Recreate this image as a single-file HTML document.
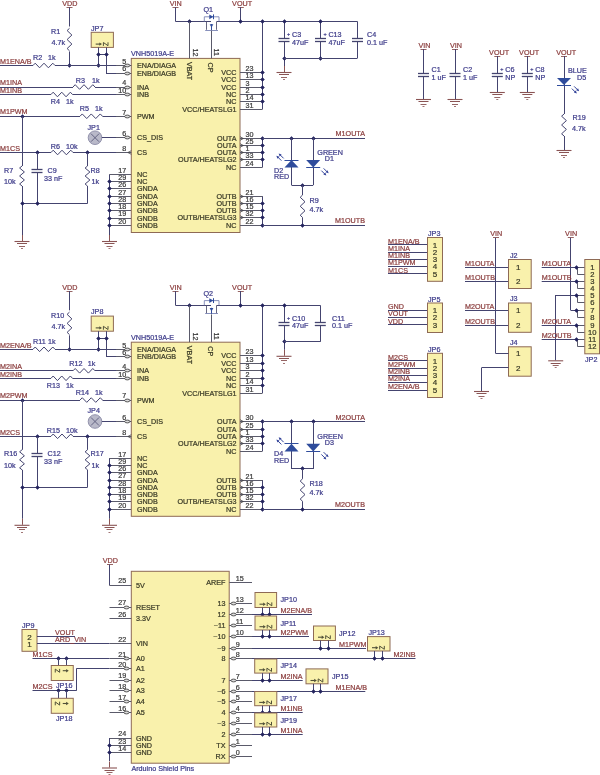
<!DOCTYPE html>
<html><head><meta charset="utf-8"><style>
html,body{margin:0;padding:0;background:#fff;}
body{width:600px;height:775px;overflow:hidden;}
svg{display:block;font-family:"Liberation Sans",sans-serif;will-change:transform;}
text{stroke-width:0.22px;}
</style></head><body>
<svg width="600" height="775" viewBox="0 0 600 775">
<rect width="600" height="775" fill="#ffffff"/>
<text x="69.8" y="5.8" fill="#8c3f3f" stroke="#8c3f3f" font-size="7.2" text-anchor="middle">VDD</text>
<line x1="66.5" y1="7.5" x2="72.5" y2="7.5" stroke="#8a5454" stroke-width="0.9"/>
<line x1="69.5" y1="7.3" x2="69.5" y2="65.5" stroke="#44446f" stroke-width="1"/>
<rect x="65" y="26.5" width="9" height="25" fill="#ffffff"/>
<polyline points="69.5,28.3 67.1,30.55 71.9,35.05 67.1,39.55 71.9,44.05 67.1,48.55 69.5,50.8" fill="none" stroke="#44446f" stroke-width="1"/>
<text x="51" y="33.8" fill="#3e3c8a" stroke="#3e3c8a" font-size="7.2">R1</text>
<text x="65" y="45" fill="#3e3c8a" stroke="#3e3c8a" font-size="7.2" text-anchor="end">4.7k</text>
<text x="91" y="30.5" fill="#3e3c8a" stroke="#3e3c8a" font-size="7.2">JP7</text>
<rect x="91.2" y="32.3" width="22.2" height="15.1" fill="#f9f1ac" stroke="#8e6a55" stroke-width="1"/>
<path d="M95.7 44.1H100" stroke="#505038" stroke-width="1.1" fill="none"/>
<path d="M99.4 42.4L102 44.1L99.4 45.8Z" fill="#505038"/>
<path d="M103.4 45.9V42.5L108 45.7V42.3" stroke="#505038" stroke-width="1.0" fill="none" stroke-linejoin="round"/>
<line x1="98.5" y1="47.4" x2="98.5" y2="65.5" stroke="#44446f" stroke-width="1"/>
<line x1="106.5" y1="47.4" x2="106.5" y2="73" stroke="#44446f" stroke-width="1"/>
<line x1="98.7" y1="54.5" x2="106" y2="54.5" stroke="#44446f" stroke-width="1"/>
<line x1="106" y1="73.5" x2="116" y2="73.5" stroke="#44446f" stroke-width="1"/>
<path d="M96.6 54.5L98.5 52.6L100.4 54.5L98.5 56.4Z" fill="#24245e" stroke="#24245e" stroke-width="0.6" stroke-linejoin="round"/>
<path d="M104.6 54.5L106.5 52.6L108.4 54.5L106.5 56.4Z" fill="#24245e" stroke="#24245e" stroke-width="0.6" stroke-linejoin="round"/>
<path d="M96.6 65.5L98.5 63.6L100.4 65.5L98.5 67.4Z" fill="#24245e" stroke="#24245e" stroke-width="0.6" stroke-linejoin="round"/>
<path d="M67.6 65.5L69.5 63.6L71.4 65.5L69.5 67.4Z" fill="#24245e" stroke="#24245e" stroke-width="0.6" stroke-linejoin="round"/>
<line x1="0" y1="65.5" x2="33" y2="65.5" stroke="#44446f" stroke-width="1"/>
<polyline points="33,65.5 35.2,63.2 39.6,67.8 44,63.2 48.4,67.8 52.8,63.2 55,65.5" fill="none" stroke="#44446f" stroke-width="1"/>
<line x1="55" y1="65.5" x2="116" y2="65.5" stroke="#44446f" stroke-width="1"/>
<text x="0" y="63.8" fill="#8c3f3f" stroke="#8c3f3f" font-size="7.2">M1ENA/B</text>
<text x="33" y="60" fill="#3e3c8a" stroke="#3e3c8a" font-size="7.2">R2</text>
<text x="48" y="60" fill="#3e3c8a" stroke="#3e3c8a" font-size="7.2">1k</text>
<line x1="0" y1="87.5" x2="73" y2="87.5" stroke="#44446f" stroke-width="1"/>
<polyline points="73,87 75.2,84.7 79.6,89.3 84,84.7 88.4,89.3 92.8,84.7 95,87" fill="none" stroke="#44446f" stroke-width="1"/>
<line x1="95" y1="87.5" x2="116" y2="87.5" stroke="#44446f" stroke-width="1"/>
<text x="0" y="85.3" fill="#8c3f3f" stroke="#8c3f3f" font-size="7.2">M1INA</text>
<text x="85" y="82.5" fill="#3e3c8a" stroke="#3e3c8a" font-size="7.2" text-anchor="end">R3</text>
<text x="92" y="82.5" fill="#3e3c8a" stroke="#3e3c8a" font-size="7.2">1k</text>
<line x1="0" y1="94.5" x2="51" y2="94.5" stroke="#44446f" stroke-width="1"/>
<polyline points="51,94.5 53.15,92.2 57.45,96.8 61.75,92.2 66.05,96.8 70.35,92.2 72.5,94.5" fill="none" stroke="#44446f" stroke-width="1"/>
<line x1="72.5" y1="94.5" x2="116" y2="94.5" stroke="#44446f" stroke-width="1"/>
<text x="0" y="92.8" fill="#8c3f3f" stroke="#8c3f3f" font-size="7.2">M1INB</text>
<text x="60" y="103.7" fill="#3e3c8a" stroke="#3e3c8a" font-size="7.2" text-anchor="end">R4</text>
<text x="66" y="103.7" fill="#3e3c8a" stroke="#3e3c8a" font-size="7.2">1k</text>
<line x1="0" y1="116.5" x2="80" y2="116.5" stroke="#44446f" stroke-width="1"/>
<polyline points="80,116.25 82.25,113.95 86.75,118.55 91.25,113.95 95.75,118.55 100.25,113.95 102.5,116.25" fill="none" stroke="#44446f" stroke-width="1"/>
<line x1="102.5" y1="116.5" x2="116" y2="116.5" stroke="#44446f" stroke-width="1"/>
<text x="0" y="114.3" fill="#8c3f3f" stroke="#8c3f3f" font-size="7.2">M1PWM</text>
<text x="89" y="111" fill="#3e3c8a" stroke="#3e3c8a" font-size="7.2" text-anchor="end">R5</text>
<text x="95" y="111" fill="#3e3c8a" stroke="#3e3c8a" font-size="7.2">1k</text>
<path d="M20.6 116.5L22.5 114.6L24.4 116.5L22.5 118.4Z" fill="#24245e" stroke="#24245e" stroke-width="0.6" stroke-linejoin="round"/>
<text x="87.5" y="129.5" fill="#3e3c8a" stroke="#3e3c8a" font-size="7.2">JP1</text>
<circle cx="95" cy="137.7" r="6.8" fill="#b9b9c9" stroke="#8a8aa6" stroke-width="0.9"/>
<line x1="91" y1="133.7" x2="99" y2="141.7" stroke="#5a5a7a" stroke-width="0.9"/>
<line x1="99" y1="133.7" x2="91" y2="141.7" stroke="#5a5a7a" stroke-width="0.9"/>
<line x1="101.8" y1="137.5" x2="116" y2="137.5" stroke="#44446f" stroke-width="1"/>
<line x1="0" y1="152.5" x2="51" y2="152.5" stroke="#44446f" stroke-width="1"/>
<polyline points="51,152.5 53.2,150.2 57.6,154.8 62,150.2 66.4,154.8 70.8,150.2 73,152.5" fill="none" stroke="#44446f" stroke-width="1"/>
<line x1="73" y1="152.5" x2="116" y2="152.5" stroke="#44446f" stroke-width="1"/>
<text x="0" y="150.7" fill="#8c3f3f" stroke="#8c3f3f" font-size="7.2">M1CS</text>
<text x="60" y="148.7" fill="#3e3c8a" stroke="#3e3c8a" font-size="7.2" text-anchor="end">R6</text>
<text x="66" y="148.7" fill="#3e3c8a" stroke="#3e3c8a" font-size="7.2">10k</text>
<path d="M35.6 152.5L37.5 150.6L39.4 152.5L37.5 154.4Z" fill="#24245e" stroke="#24245e" stroke-width="0.6" stroke-linejoin="round"/>
<path d="M85.6 152.5L87.5 150.6L89.4 152.5L87.5 154.4Z" fill="#24245e" stroke="#24245e" stroke-width="0.6" stroke-linejoin="round"/>
<line x1="22.5" y1="116.25" x2="22.5" y2="166" stroke="#44446f" stroke-width="1"/>
<polyline points="22,166 19.6,168 24.4,172 19.6,176 24.4,180 19.6,184 22,186" fill="none" stroke="#44446f" stroke-width="1"/>
<line x1="22.5" y1="186" x2="22.5" y2="235" stroke="#44446f" stroke-width="1"/>
<line x1="22.5" y1="235" x2="22.5" y2="241" stroke="#8a5454" stroke-width="1"/>
<line x1="14.5" y1="241.5" x2="29.5" y2="241.5" stroke="#8a5454" stroke-width="1.1"/>
<line x1="17" y1="243.5" x2="27" y2="243.5" stroke="#8a5454" stroke-width="1"/>
<line x1="19" y1="246.5" x2="25" y2="246.5" stroke="#8a5454" stroke-width="0.9"/>
<line x1="21" y1="248.5" x2="23" y2="248.5" stroke="#8a5454" stroke-width="0.8"/>
<text x="4" y="172.5" fill="#3e3c8a" stroke="#3e3c8a" font-size="7.2">R7</text>
<text x="4" y="183.7" fill="#3e3c8a" stroke="#3e3c8a" font-size="7.2">10k</text>
<line x1="31.5" y1="169.5" x2="42.5" y2="169.5" stroke="#44446f" stroke-width="1.3"/>
<line x1="31.5" y1="172.5" x2="42.5" y2="172.5" stroke="#44446f" stroke-width="1.3"/>
<line x1="37.5" y1="152.5" x2="37.5" y2="169.5" stroke="#44446f" stroke-width="1"/>
<line x1="37.5" y1="172.5" x2="37.5" y2="203.5" stroke="#44446f" stroke-width="1"/>
<text x="47.5" y="172.5" fill="#3e3c8a" stroke="#3e3c8a" font-size="7.2">C9</text>
<text x="44" y="180.5" fill="#3e3c8a" stroke="#3e3c8a" font-size="7.2">33 nF</text>
<line x1="87.5" y1="152.5" x2="87.5" y2="166" stroke="#44446f" stroke-width="1"/>
<polyline points="87.5,166 85.1,168 89.9,172 85.1,176 89.9,180 85.1,184 87.5,186" fill="none" stroke="#44446f" stroke-width="1"/>
<line x1="87.5" y1="186" x2="87.5" y2="203.5" stroke="#44446f" stroke-width="1"/>
<text x="90.5" y="172.5" fill="#3e3c8a" stroke="#3e3c8a" font-size="7.2">R8</text>
<text x="91.5" y="183.7" fill="#3e3c8a" stroke="#3e3c8a" font-size="7.2">1k</text>
<line x1="22" y1="203.5" x2="87.5" y2="203.5" stroke="#44446f" stroke-width="1"/>
<path d="M20.6 203.5L22.5 201.6L24.4 203.5L22.5 205.4Z" fill="#24245e" stroke="#24245e" stroke-width="0.6" stroke-linejoin="round"/>
<path d="M35.6 203.5L37.5 201.6L39.4 203.5L37.5 205.4Z" fill="#24245e" stroke="#24245e" stroke-width="0.6" stroke-linejoin="round"/>
<line x1="109.5" y1="174.3" x2="109.5" y2="235" stroke="#44446f" stroke-width="1"/>
<line x1="109.5" y1="235" x2="109.5" y2="241" stroke="#8a5454" stroke-width="1"/>
<line x1="102" y1="241.5" x2="117" y2="241.5" stroke="#8a5454" stroke-width="1.1"/>
<line x1="104.5" y1="243.5" x2="114.5" y2="243.5" stroke="#8a5454" stroke-width="1"/>
<line x1="106.5" y1="246.5" x2="112.5" y2="246.5" stroke="#8a5454" stroke-width="0.9"/>
<line x1="108.5" y1="248.5" x2="110.5" y2="248.5" stroke="#8a5454" stroke-width="0.8"/>
<line x1="109.5" y1="174.5" x2="131.3" y2="174.5" stroke="#5a5a6a" stroke-width="1"/>
<line x1="109.5" y1="181.5" x2="131.3" y2="181.5" stroke="#5a5a6a" stroke-width="1"/>
<path d="M107.6 181.5L109.5 179.6L111.4 181.5L109.5 183.4Z" fill="#24245e" stroke="#24245e" stroke-width="0.6" stroke-linejoin="round"/>
<line x1="109.5" y1="188.5" x2="131.3" y2="188.5" stroke="#5a5a6a" stroke-width="1"/>
<path d="M107.6 188.5L109.5 186.6L111.4 188.5L109.5 190.4Z" fill="#24245e" stroke="#24245e" stroke-width="0.6" stroke-linejoin="round"/>
<line x1="109.5" y1="196.5" x2="131.3" y2="196.5" stroke="#5a5a6a" stroke-width="1"/>
<path d="M107.6 196.5L109.5 194.6L111.4 196.5L109.5 198.4Z" fill="#24245e" stroke="#24245e" stroke-width="0.6" stroke-linejoin="round"/>
<line x1="109.5" y1="203.5" x2="131.3" y2="203.5" stroke="#5a5a6a" stroke-width="1"/>
<path d="M107.6 203.5L109.5 201.6L111.4 203.5L109.5 205.4Z" fill="#24245e" stroke="#24245e" stroke-width="0.6" stroke-linejoin="round"/>
<line x1="109.5" y1="210.5" x2="131.3" y2="210.5" stroke="#5a5a6a" stroke-width="1"/>
<path d="M107.6 210.5L109.5 208.6L111.4 210.5L109.5 212.4Z" fill="#24245e" stroke="#24245e" stroke-width="0.6" stroke-linejoin="round"/>
<line x1="109.5" y1="218.5" x2="131.3" y2="218.5" stroke="#5a5a6a" stroke-width="1"/>
<path d="M107.6 218.5L109.5 216.6L111.4 218.5L109.5 220.4Z" fill="#24245e" stroke="#24245e" stroke-width="0.6" stroke-linejoin="round"/>
<line x1="109.5" y1="225.5" x2="131.3" y2="225.5" stroke="#5a5a6a" stroke-width="1"/>
<path d="M107.6 225.5L109.5 223.6L111.4 225.5L109.5 227.4Z" fill="#24245e" stroke="#24245e" stroke-width="0.6" stroke-linejoin="round"/>
<rect x="131.3" y="58.4" width="108.7" height="174.1" fill="#f9f1ac" stroke="#8e6a55" stroke-width="1"/>
<text x="131" y="56.3" fill="#3e3c8a" stroke="#3e3c8a" font-size="7.2">VNH5019A-E</text>
<line x1="116" y1="65.5" x2="131.3" y2="65.5" stroke="#5a5a6a" stroke-width="1"/>
<text x="126.3" y="63.9" fill="#3a3a3a" stroke="#3a3a3a" font-size="7.2" text-anchor="end">5</text>
<text x="137" y="68.1" fill="#3a3a26" stroke="#3a3a26" font-size="7.2">ENA/DIAGA</text>
<ellipse cx="127.3" cy="65.5" rx="2.6" ry="1.4" fill="#dddddd" stroke="#444444" stroke-width="0.9"/>
<line x1="116" y1="73.5" x2="131.3" y2="73.5" stroke="#5a5a6a" stroke-width="1"/>
<text x="126.3" y="71.4" fill="#3a3a3a" stroke="#3a3a3a" font-size="7.2" text-anchor="end">6</text>
<text x="137" y="75.6" fill="#3a3a26" stroke="#3a3a26" font-size="7.2">ENB/DIAGB</text>
<ellipse cx="127.3" cy="73.5" rx="2.6" ry="1.4" fill="#dddddd" stroke="#444444" stroke-width="0.9"/>
<line x1="116" y1="87.5" x2="131.3" y2="87.5" stroke="#5a5a6a" stroke-width="1"/>
<text x="126.3" y="85.4" fill="#3a3a3a" stroke="#3a3a3a" font-size="7.2" text-anchor="end">4</text>
<text x="137" y="89.6" fill="#3a3a26" stroke="#3a3a26" font-size="7.2">INA</text>
<ellipse cx="127.3" cy="87.5" rx="2.6" ry="1.4" fill="#dddddd" stroke="#444444" stroke-width="0.9"/>
<line x1="116" y1="94.5" x2="131.3" y2="94.5" stroke="#5a5a6a" stroke-width="1"/>
<text x="126.3" y="92.9" fill="#3a3a3a" stroke="#3a3a3a" font-size="7.2" text-anchor="end">10</text>
<text x="137" y="97.1" fill="#3a3a26" stroke="#3a3a26" font-size="7.2">INB</text>
<ellipse cx="127.3" cy="94.5" rx="2.6" ry="1.4" fill="#dddddd" stroke="#444444" stroke-width="0.9"/>
<line x1="116" y1="116.5" x2="131.3" y2="116.5" stroke="#5a5a6a" stroke-width="1"/>
<text x="126.3" y="114.65" fill="#3a3a3a" stroke="#3a3a3a" font-size="7.2" text-anchor="end">7</text>
<text x="137" y="118.85" fill="#3a3a26" stroke="#3a3a26" font-size="7.2">PWM</text>
<ellipse cx="127.3" cy="116.5" rx="2.6" ry="1.4" fill="#dddddd" stroke="#444444" stroke-width="0.9"/>
<line x1="116" y1="137.5" x2="131.3" y2="137.5" stroke="#5a5a6a" stroke-width="1"/>
<text x="126.3" y="136.1" fill="#3a3a3a" stroke="#3a3a3a" font-size="7.2" text-anchor="end">6</text>
<text x="137" y="140.3" fill="#3a3a26" stroke="#3a3a26" font-size="7.2">CS_DIS</text>
<ellipse cx="127.3" cy="137.5" rx="2.6" ry="1.4" fill="#dddddd" stroke="#444444" stroke-width="0.9"/>
<line x1="116" y1="152.5" x2="131.3" y2="152.5" stroke="#5a5a6a" stroke-width="1"/>
<text x="126.3" y="150.9" fill="#3a3a3a" stroke="#3a3a3a" font-size="7.2" text-anchor="end">8</text>
<text x="137" y="155.1" fill="#3a3a26" stroke="#3a3a26" font-size="7.2">CS</text>
<path d="M131.3 150.7L127.9 152.5L131.3 154.3" fill="none" stroke="#444444" stroke-width="0.8"/>
<text x="126.3" y="172.7" fill="#3a3a3a" stroke="#3a3a3a" font-size="7.2" text-anchor="end">17</text>
<text x="126.3" y="179.7" fill="#3a3a3a" stroke="#3a3a3a" font-size="7.2" text-anchor="end">29</text>
<text x="126.3" y="186.9" fill="#3a3a3a" stroke="#3a3a3a" font-size="7.2" text-anchor="end">26</text>
<text x="126.3" y="194.6" fill="#3a3a3a" stroke="#3a3a3a" font-size="7.2" text-anchor="end">27</text>
<text x="126.3" y="201.9" fill="#3a3a3a" stroke="#3a3a3a" font-size="7.2" text-anchor="end">28</text>
<text x="126.3" y="209.2" fill="#3a3a3a" stroke="#3a3a3a" font-size="7.2" text-anchor="end">18</text>
<text x="126.3" y="216.4" fill="#3a3a3a" stroke="#3a3a3a" font-size="7.2" text-anchor="end">19</text>
<text x="126.3" y="223.7" fill="#3a3a3a" stroke="#3a3a3a" font-size="7.2" text-anchor="end">20</text>
<text x="137" y="176.9" fill="#3a3a26" stroke="#3a3a26" font-size="7.2">NC</text>
<text x="137" y="183.9" fill="#3a3a26" stroke="#3a3a26" font-size="7.2">NC</text>
<text x="137" y="191.1" fill="#3a3a26" stroke="#3a3a26" font-size="7.2">GNDA</text>
<text x="137" y="198.8" fill="#3a3a26" stroke="#3a3a26" font-size="7.2">GNDA</text>
<text x="137" y="206.1" fill="#3a3a26" stroke="#3a3a26" font-size="7.2">GNDA</text>
<text x="137" y="213.4" fill="#3a3a26" stroke="#3a3a26" font-size="7.2">GNDB</text>
<text x="137" y="220.6" fill="#3a3a26" stroke="#3a3a26" font-size="7.2">GNDB</text>
<text x="137" y="227.9" fill="#3a3a26" stroke="#3a3a26" font-size="7.2">GNDB</text>
<text x="175.8" y="5.8" fill="#8c3f3f" stroke="#8c3f3f" font-size="7.2" text-anchor="middle">VIN</text>
<line x1="172.5" y1="7.5" x2="178.5" y2="7.5" stroke="#8a5454" stroke-width="0.9"/>
<line x1="175.5" y1="7.3" x2="175.5" y2="21.5" stroke="#44446f" stroke-width="1"/>
<line x1="175.5" y1="21.5" x2="211" y2="21.5" stroke="#44446f" stroke-width="1"/>
<line x1="216.7" y1="21.5" x2="357.5" y2="21.5" stroke="#44446f" stroke-width="1"/>
<path d="M187.6 21.5L189.5 19.6L191.4 21.5L189.5 23.4Z" fill="#24245e" stroke="#24245e" stroke-width="0.6" stroke-linejoin="round"/>
<line x1="189.5" y1="21.5" x2="189.5" y2="58.4" stroke="#5a5a6a" stroke-width="1"/>
<text x="203.5" y="12" fill="#3e3c8a" stroke="#3e3c8a" font-size="7.2">Q1</text>
<polyline points="204.3,21.5 204.3,16.8 219,16.8 219,21.5" fill="none" stroke="#7a84b4" stroke-width="0.9"/>
<path d="M209.3 14.4L209.3 19.2L213.3 16.8Z" fill="#2f4c9c"/>
<line x1="213.5" y1="14.4" x2="213.5" y2="19.2" stroke="#2f4c9c" stroke-width="1"/>
<line x1="206.5" y1="21.5" x2="206.5" y2="29.8" stroke="#555570" stroke-width="0.9"/>
<line x1="216.5" y1="21.5" x2="216.5" y2="29.8" stroke="#555570" stroke-width="0.9"/>
<line x1="205.2" y1="30.5" x2="218" y2="30.5" stroke="#7a84b4" stroke-width="0.9"/>
<path d="M209.6 24.3L213.4 24.3L211.5 27.6Z" fill="#2f4c9c"/>
<line x1="211.5" y1="24" x2="211.5" y2="30" stroke="#2f4c9c" stroke-width="1"/>
<line x1="211.5" y1="30.6" x2="211.5" y2="58.4" stroke="#5a5a6a" stroke-width="1"/>
<text x="242.1" y="5.8" fill="#8c3f3f" stroke="#8c3f3f" font-size="7.2" text-anchor="middle">VOUT</text>
<line x1="237.8" y1="7.5" x2="243.8" y2="7.5" stroke="#8a5454" stroke-width="0.9"/>
<line x1="240.5" y1="7.3" x2="240.5" y2="21.5" stroke="#44446f" stroke-width="1"/>
<path d="M238.6 21.5L240.5 19.6L242.4 21.5L240.5 23.4Z" fill="#24245e" stroke="#24245e" stroke-width="0.6" stroke-linejoin="round"/>
<text x="192.5" y="48.6" fill="#3a3a3a" stroke="#3a3a3a" font-size="7.2" transform="rotate(90 192.5 48.6)">12</text>
<text x="214" y="48.6" fill="#3a3a3a" stroke="#3a3a3a" font-size="7.2" transform="rotate(90 214 48.6)">11</text>
<text x="186.8" y="62" fill="#3a3a26" stroke="#3a3a26" font-size="7.2" transform="rotate(90 186.8 62)">VBAT</text>
<text x="208.4" y="62.5" fill="#3a3a26" stroke="#3a3a26" font-size="7.2" transform="rotate(90 208.4 62.5)">CP</text>
<line x1="262.5" y1="21.5" x2="262.5" y2="109.2" stroke="#44446f" stroke-width="1"/>
<path d="M260.6 21.5L262.5 19.6L264.4 21.5L262.5 23.4Z" fill="#24245e" stroke="#24245e" stroke-width="0.6" stroke-linejoin="round"/>
<line x1="240" y1="72.5" x2="262.5" y2="72.5" stroke="#5a5a6a" stroke-width="1"/>
<text x="245.5" y="70.6" fill="#3a3a3a" stroke="#3a3a3a" font-size="7.2">23</text>
<text x="236.5" y="74.6" fill="#3a3a26" stroke="#3a3a26" font-size="7.2" text-anchor="end">VCC</text>
<path d="M260.6 72.5L262.5 70.6L264.4 72.5L262.5 74.4Z" fill="#24245e" stroke="#24245e" stroke-width="0.6" stroke-linejoin="round"/>
<line x1="240" y1="79.5" x2="262.5" y2="79.5" stroke="#5a5a6a" stroke-width="1"/>
<text x="245.5" y="77.9" fill="#3a3a3a" stroke="#3a3a3a" font-size="7.2">13</text>
<text x="236.5" y="81.9" fill="#3a3a26" stroke="#3a3a26" font-size="7.2" text-anchor="end">VCC</text>
<path d="M260.6 79.5L262.5 77.6L264.4 79.5L262.5 81.4Z" fill="#24245e" stroke="#24245e" stroke-width="0.6" stroke-linejoin="round"/>
<line x1="240" y1="87.5" x2="262.5" y2="87.5" stroke="#5a5a6a" stroke-width="1"/>
<text x="245.5" y="85.6" fill="#3a3a3a" stroke="#3a3a3a" font-size="7.2">3</text>
<text x="236.5" y="89.6" fill="#3a3a26" stroke="#3a3a26" font-size="7.2" text-anchor="end">VCC</text>
<path d="M260.6 87.5L262.5 85.6L264.4 87.5L262.5 89.4Z" fill="#24245e" stroke="#24245e" stroke-width="0.6" stroke-linejoin="round"/>
<line x1="240" y1="94.5" x2="262.5" y2="94.5" stroke="#5a5a6a" stroke-width="1"/>
<text x="245.5" y="92.9" fill="#3a3a3a" stroke="#3a3a3a" font-size="7.2">2</text>
<text x="236.5" y="96.9" fill="#3a3a26" stroke="#3a3a26" font-size="7.2" text-anchor="end">NC</text>
<path d="M260.6 94.5L262.5 92.6L264.4 94.5L262.5 96.4Z" fill="#24245e" stroke="#24245e" stroke-width="0.6" stroke-linejoin="round"/>
<line x1="240" y1="101.5" x2="262.5" y2="101.5" stroke="#5a5a6a" stroke-width="1"/>
<text x="245.5" y="99.9" fill="#3a3a3a" stroke="#3a3a3a" font-size="7.2">14</text>
<text x="236.5" y="103.9" fill="#3a3a26" stroke="#3a3a26" font-size="7.2" text-anchor="end">NC</text>
<path d="M260.6 101.5L262.5 99.6L264.4 101.5L262.5 103.4Z" fill="#24245e" stroke="#24245e" stroke-width="0.6" stroke-linejoin="round"/>
<line x1="240" y1="109.5" x2="262.5" y2="109.5" stroke="#5a5a6a" stroke-width="1"/>
<text x="245.5" y="107.8" fill="#3a3a3a" stroke="#3a3a3a" font-size="7.2">31</text>
<text x="236.5" y="111.8" fill="#3a3a26" stroke="#3a3a26" font-size="7.2" text-anchor="end">VCC/HEATSLG1</text>
<line x1="278.5" y1="38.5" x2="289.5" y2="38.5" stroke="#44446f" stroke-width="1.3"/>
<line x1="278.5" y1="41.5" x2="289.5" y2="41.5" stroke="#44446f" stroke-width="1.3"/>
<text x="287" y="35.9" fill="#3e3c8a" stroke="#3e3c8a" font-size="5.5">+</text>
<line x1="284.5" y1="21.5" x2="284.5" y2="38.5" stroke="#44446f" stroke-width="1"/>
<line x1="284.5" y1="41.5" x2="284.5" y2="66" stroke="#44446f" stroke-width="1"/>
<path d="M282.6 21.5L284.5 19.6L286.4 21.5L284.5 23.4Z" fill="#24245e" stroke="#24245e" stroke-width="0.6" stroke-linejoin="round"/>
<path d="M282.6 58.5L284.5 56.6L286.4 58.5L284.5 60.4Z" fill="#24245e" stroke="#24245e" stroke-width="0.6" stroke-linejoin="round"/>
<line x1="284.5" y1="66" x2="284.5" y2="72" stroke="#8a5454" stroke-width="1"/>
<line x1="276.5" y1="72.5" x2="291.5" y2="72.5" stroke="#8a5454" stroke-width="1.1"/>
<line x1="279" y1="74.5" x2="289" y2="74.5" stroke="#8a5454" stroke-width="1"/>
<line x1="281" y1="77.5" x2="287" y2="77.5" stroke="#8a5454" stroke-width="0.9"/>
<line x1="283" y1="79.5" x2="285" y2="79.5" stroke="#8a5454" stroke-width="0.8"/>
<text x="292" y="37.4" fill="#3e3c8a" stroke="#3e3c8a" font-size="7.2">C3</text>
<text x="292" y="44.5" fill="#3e3c8a" stroke="#3e3c8a" font-size="7.2">47uF</text>
<line x1="315" y1="38.5" x2="326" y2="38.5" stroke="#44446f" stroke-width="1.3"/>
<line x1="315" y1="41.5" x2="326" y2="41.5" stroke="#44446f" stroke-width="1.3"/>
<text x="323.5" y="35.9" fill="#3e3c8a" stroke="#3e3c8a" font-size="5.5">+</text>
<line x1="320.5" y1="21.5" x2="320.5" y2="38.5" stroke="#44446f" stroke-width="1"/>
<line x1="320.5" y1="41.5" x2="320.5" y2="58" stroke="#44446f" stroke-width="1"/>
<path d="M318.6 21.5L320.5 19.6L322.4 21.5L320.5 23.4Z" fill="#24245e" stroke="#24245e" stroke-width="0.6" stroke-linejoin="round"/>
<path d="M318.6 58.5L320.5 56.6L322.4 58.5L320.5 60.4Z" fill="#24245e" stroke="#24245e" stroke-width="0.6" stroke-linejoin="round"/>
<text x="328.4" y="37.4" fill="#3e3c8a" stroke="#3e3c8a" font-size="7.2">C13</text>
<text x="328.4" y="44.5" fill="#3e3c8a" stroke="#3e3c8a" font-size="7.2">47uF</text>
<line x1="352" y1="38.5" x2="363" y2="38.5" stroke="#44446f" stroke-width="1.3"/>
<line x1="352" y1="41.5" x2="363" y2="41.5" stroke="#44446f" stroke-width="1.3"/>
<line x1="357.5" y1="21.5" x2="357.5" y2="38.5" stroke="#44446f" stroke-width="1"/>
<line x1="357.5" y1="41.5" x2="357.5" y2="58" stroke="#44446f" stroke-width="1"/>
<text x="367" y="37.4" fill="#3e3c8a" stroke="#3e3c8a" font-size="7.2">C4</text>
<text x="367" y="44.5" fill="#3e3c8a" stroke="#3e3c8a" font-size="7.2">0.1 uF</text>
<line x1="284" y1="58.5" x2="357.5" y2="58.5" stroke="#44446f" stroke-width="1"/>
<line x1="262.5" y1="138" x2="262.5" y2="167.3" stroke="#44446f" stroke-width="1"/>
<line x1="240" y1="138.5" x2="262.5" y2="138.5" stroke="#5a5a6a" stroke-width="1"/>
<text x="245.5" y="136.6" fill="#3a3a3a" stroke="#3a3a3a" font-size="7.2">30</text>
<text x="236.5" y="140.6" fill="#3a3a26" stroke="#3a3a26" font-size="7.2" text-anchor="end">OUTA</text>
<path d="M260.6 138.5L262.5 136.6L264.4 138.5L262.5 140.4Z" fill="#24245e" stroke="#24245e" stroke-width="0.6" stroke-linejoin="round"/>
<path d="M240 136.7L243.4 138.5L240 140.3" fill="none" stroke="#444444" stroke-width="0.8"/>
<line x1="240" y1="145.5" x2="262.5" y2="145.5" stroke="#5a5a6a" stroke-width="1"/>
<text x="245.5" y="143.8" fill="#3a3a3a" stroke="#3a3a3a" font-size="7.2">25</text>
<text x="236.5" y="147.8" fill="#3a3a26" stroke="#3a3a26" font-size="7.2" text-anchor="end">OUTA</text>
<path d="M260.6 145.5L262.5 143.6L264.4 145.5L262.5 147.4Z" fill="#24245e" stroke="#24245e" stroke-width="0.6" stroke-linejoin="round"/>
<path d="M240 143.7L243.4 145.5L240 147.3" fill="none" stroke="#444444" stroke-width="0.8"/>
<line x1="240" y1="152.5" x2="262.5" y2="152.5" stroke="#5a5a6a" stroke-width="1"/>
<text x="245.5" y="151.1" fill="#3a3a3a" stroke="#3a3a3a" font-size="7.2">1</text>
<text x="236.5" y="155.1" fill="#3a3a26" stroke="#3a3a26" font-size="7.2" text-anchor="end">OUTA</text>
<path d="M260.6 152.5L262.5 150.6L264.4 152.5L262.5 154.4Z" fill="#24245e" stroke="#24245e" stroke-width="0.6" stroke-linejoin="round"/>
<path d="M240 150.7L243.4 152.5L240 154.3" fill="none" stroke="#444444" stroke-width="0.8"/>
<line x1="240" y1="159.5" x2="262.5" y2="159.5" stroke="#5a5a6a" stroke-width="1"/>
<text x="245.5" y="158.2" fill="#3a3a3a" stroke="#3a3a3a" font-size="7.2">33</text>
<text x="236.5" y="162.2" fill="#3a3a26" stroke="#3a3a26" font-size="7.2" text-anchor="end">OUTA/HEATSLG2</text>
<path d="M260.6 159.5L262.5 157.6L264.4 159.5L262.5 161.4Z" fill="#24245e" stroke="#24245e" stroke-width="0.6" stroke-linejoin="round"/>
<path d="M240 157.7L243.4 159.5L240 161.3" fill="none" stroke="#444444" stroke-width="0.8"/>
<line x1="240" y1="167.5" x2="262.5" y2="167.5" stroke="#5a5a6a" stroke-width="1"/>
<text x="245.5" y="165.9" fill="#3a3a3a" stroke="#3a3a3a" font-size="7.2">24</text>
<text x="236.5" y="169.9" fill="#3a3a26" stroke="#3a3a26" font-size="7.2" text-anchor="end">NC</text>
<line x1="262.5" y1="196.2" x2="262.5" y2="225.2" stroke="#44446f" stroke-width="1"/>
<line x1="240" y1="196.5" x2="262.5" y2="196.5" stroke="#5a5a6a" stroke-width="1"/>
<text x="245.5" y="194.8" fill="#3a3a3a" stroke="#3a3a3a" font-size="7.2">21</text>
<text x="236.5" y="198.8" fill="#3a3a26" stroke="#3a3a26" font-size="7.2" text-anchor="end">OUTB</text>
<path d="M240 194.7L243.4 196.5L240 198.3" fill="none" stroke="#444444" stroke-width="0.8"/>
<line x1="240" y1="203.5" x2="262.5" y2="203.5" stroke="#5a5a6a" stroke-width="1"/>
<text x="245.5" y="202" fill="#3a3a3a" stroke="#3a3a3a" font-size="7.2">16</text>
<text x="236.5" y="206" fill="#3a3a26" stroke="#3a3a26" font-size="7.2" text-anchor="end">OUTB</text>
<path d="M260.6 203.5L262.5 201.6L264.4 203.5L262.5 205.4Z" fill="#24245e" stroke="#24245e" stroke-width="0.6" stroke-linejoin="round"/>
<path d="M240 201.7L243.4 203.5L240 205.3" fill="none" stroke="#444444" stroke-width="0.8"/>
<line x1="240" y1="210.5" x2="262.5" y2="210.5" stroke="#5a5a6a" stroke-width="1"/>
<text x="245.5" y="209.2" fill="#3a3a3a" stroke="#3a3a3a" font-size="7.2">15</text>
<text x="236.5" y="213.2" fill="#3a3a26" stroke="#3a3a26" font-size="7.2" text-anchor="end">OUTB</text>
<path d="M260.6 210.5L262.5 208.6L264.4 210.5L262.5 212.4Z" fill="#24245e" stroke="#24245e" stroke-width="0.6" stroke-linejoin="round"/>
<path d="M240 208.7L243.4 210.5L240 212.3" fill="none" stroke="#444444" stroke-width="0.8"/>
<line x1="240" y1="217.5" x2="262.5" y2="217.5" stroke="#5a5a6a" stroke-width="1"/>
<text x="245.5" y="216.4" fill="#3a3a3a" stroke="#3a3a3a" font-size="7.2">32</text>
<text x="236.5" y="220.4" fill="#3a3a26" stroke="#3a3a26" font-size="7.2" text-anchor="end">OUTB/HEATSLG3</text>
<path d="M260.6 217.5L262.5 215.6L264.4 217.5L262.5 219.4Z" fill="#24245e" stroke="#24245e" stroke-width="0.6" stroke-linejoin="round"/>
<path d="M240 215.7L243.4 217.5L240 219.3" fill="none" stroke="#444444" stroke-width="0.8"/>
<line x1="240" y1="225.5" x2="262.5" y2="225.5" stroke="#5a5a6a" stroke-width="1"/>
<text x="245.5" y="223.8" fill="#3a3a3a" stroke="#3a3a3a" font-size="7.2">22</text>
<text x="236.5" y="227.8" fill="#3a3a26" stroke="#3a3a26" font-size="7.2" text-anchor="end">NC</text>
<path d="M260.6 225.5L262.5 223.6L264.4 225.5L262.5 227.4Z" fill="#24245e" stroke="#24245e" stroke-width="0.6" stroke-linejoin="round"/>
<line x1="262.5" y1="138.5" x2="365" y2="138.5" stroke="#44446f" stroke-width="1"/>
<text x="365" y="136" fill="#8c3f3f" stroke="#8c3f3f" font-size="7.2" text-anchor="end">M1OUTA</text>
<line x1="262.5" y1="225.5" x2="365" y2="225.5" stroke="#44446f" stroke-width="1"/>
<text x="365" y="223" fill="#8c3f3f" stroke="#8c3f3f" font-size="7.2" text-anchor="end">M1OUTB</text>
<path d="M289.6 138.5L291.5 136.6L293.4 138.5L291.5 140.4Z" fill="#24245e" stroke="#24245e" stroke-width="0.6" stroke-linejoin="round"/>
<path d="M311.6 138.5L313.5 136.6L315.4 138.5L313.5 140.4Z" fill="#24245e" stroke="#24245e" stroke-width="0.6" stroke-linejoin="round"/>
<line x1="291.5" y1="138" x2="291.5" y2="185" stroke="#44446f" stroke-width="1"/>
<line x1="313.5" y1="138" x2="313.5" y2="185" stroke="#44446f" stroke-width="1"/>
<rect x="284" y="159.8" width="37" height="8" fill="#ffffff"/>
<line x1="291.5" y1="138" x2="291.5" y2="185" stroke="#44446f" stroke-width="1"/>
<line x1="313.5" y1="138" x2="313.5" y2="185" stroke="#44446f" stroke-width="1"/>
<path d="M284.5 167.6L298.5 167.6L291.5 160Z" fill="#2f4c9c"/>
<line x1="284.5" y1="160.5" x2="298.5" y2="160.5" stroke="#2f4c9c" stroke-width="1"/>
<path d="M306.2 160L320.2 160L313.2 167.6Z" fill="#2f4c9c"/>
<line x1="306.2" y1="167.5" x2="320.2" y2="167.5" stroke="#2f4c9c" stroke-width="1"/>
<line x1="281.37" y1="160.63" x2="277.48" y2="156.74" stroke="#34449a" stroke-width="1"/>
<path d="M276.42 155.68L279.39 156.67L277.41 158.65Z" fill="#34449a"/>
<line x1="283.63" y1="158.37" x2="279.74" y2="154.48" stroke="#34449a" stroke-width="1"/>
<path d="M278.68 153.42L281.65 154.41L279.67 156.39Z" fill="#34449a"/>
<line x1="323.63" y1="168.37" x2="327.52" y2="172.26" stroke="#34449a" stroke-width="1"/>
<path d="M328.58 173.32L325.61 172.33L327.59 170.35Z" fill="#34449a"/>
<line x1="321.37" y1="170.63" x2="325.26" y2="174.52" stroke="#34449a" stroke-width="1"/>
<path d="M326.32 175.58L323.35 174.59L325.33 172.61Z" fill="#34449a"/>
<line x1="291.5" y1="185.5" x2="313.2" y2="185.5" stroke="#44446f" stroke-width="1"/>
<path d="M300.6 185.5L302.5 183.6L304.4 185.5L302.5 187.4Z" fill="#24245e" stroke="#24245e" stroke-width="0.6" stroke-linejoin="round"/>
<line x1="302.5" y1="185" x2="302.5" y2="195" stroke="#44446f" stroke-width="1"/>
<polyline points="302.6,195 300.2,197.25 305,201.75 300.2,206.25 305,210.75 300.2,215.25 302.6,217.5" fill="none" stroke="#44446f" stroke-width="1"/>
<line x1="302.5" y1="217.5" x2="302.5" y2="225.2" stroke="#44446f" stroke-width="1"/>
<path d="M300.6 225.5L302.5 223.6L304.4 225.5L302.5 227.4Z" fill="#24245e" stroke="#24245e" stroke-width="0.6" stroke-linejoin="round"/>
<text x="274" y="172.6" fill="#3e3c8a" stroke="#3e3c8a" font-size="7.2">D2</text>
<text x="274" y="179.4" fill="#3e3c8a" stroke="#3e3c8a" font-size="7.2">RED</text>
<text x="317.3" y="154.8" fill="#3e3c8a" stroke="#3e3c8a" font-size="7.2">GREEN</text>
<text x="324.8" y="161.2" fill="#3e3c8a" stroke="#3e3c8a" font-size="7.2">D1</text>
<text x="309.5" y="202.6" fill="#3e3c8a" stroke="#3e3c8a" font-size="7.2">R9</text>
<text x="309.5" y="211.5" fill="#3e3c8a" stroke="#3e3c8a" font-size="7.2">4.7k</text>
<text x="69.8" y="289.6" fill="#8c3f3f" stroke="#8c3f3f" font-size="7.2" text-anchor="middle">VDD</text>
<line x1="66.5" y1="291.5" x2="72.5" y2="291.5" stroke="#8a5454" stroke-width="0.9"/>
<line x1="69.5" y1="291.1" x2="69.5" y2="349.3" stroke="#44446f" stroke-width="1"/>
<rect x="65" y="310.3" width="9" height="25" fill="#ffffff"/>
<polyline points="69.5,312.1 67.1,314.35 71.9,318.85 67.1,323.35 71.9,327.85 67.1,332.35 69.5,334.6" fill="none" stroke="#44446f" stroke-width="1"/>
<text x="51" y="317.6" fill="#3e3c8a" stroke="#3e3c8a" font-size="7.2">R10</text>
<text x="65" y="328.8" fill="#3e3c8a" stroke="#3e3c8a" font-size="7.2" text-anchor="end">4.7k</text>
<text x="91" y="314.3" fill="#3e3c8a" stroke="#3e3c8a" font-size="7.2">JP8</text>
<rect x="91.2" y="316.1" width="22.2" height="15.1" fill="#f9f1ac" stroke="#8e6a55" stroke-width="1"/>
<path d="M95.7 327.9H100" stroke="#505038" stroke-width="1.1" fill="none"/>
<path d="M99.4 326.2L102 327.9L99.4 329.6Z" fill="#505038"/>
<path d="M103.4 329.7V326.3L108 329.5V326.1" stroke="#505038" stroke-width="1.0" fill="none" stroke-linejoin="round"/>
<line x1="98.5" y1="331.2" x2="98.5" y2="349.3" stroke="#44446f" stroke-width="1"/>
<line x1="106.5" y1="331.2" x2="106.5" y2="356.8" stroke="#44446f" stroke-width="1"/>
<line x1="98.7" y1="338.5" x2="106" y2="338.5" stroke="#44446f" stroke-width="1"/>
<line x1="106" y1="356.5" x2="116" y2="356.5" stroke="#44446f" stroke-width="1"/>
<path d="M96.6 338.5L98.5 336.6L100.4 338.5L98.5 340.4Z" fill="#24245e" stroke="#24245e" stroke-width="0.6" stroke-linejoin="round"/>
<path d="M104.6 338.5L106.5 336.6L108.4 338.5L106.5 340.4Z" fill="#24245e" stroke="#24245e" stroke-width="0.6" stroke-linejoin="round"/>
<path d="M96.6 349.5L98.5 347.6L100.4 349.5L98.5 351.4Z" fill="#24245e" stroke="#24245e" stroke-width="0.6" stroke-linejoin="round"/>
<path d="M67.6 349.5L69.5 347.6L71.4 349.5L69.5 351.4Z" fill="#24245e" stroke="#24245e" stroke-width="0.6" stroke-linejoin="round"/>
<line x1="0" y1="349.5" x2="33" y2="349.5" stroke="#44446f" stroke-width="1"/>
<polyline points="33,349.3 35.2,347 39.6,351.6 44,347 48.4,351.6 52.8,347 55,349.3" fill="none" stroke="#44446f" stroke-width="1"/>
<line x1="55" y1="349.5" x2="116" y2="349.5" stroke="#44446f" stroke-width="1"/>
<text x="0" y="347.6" fill="#8c3f3f" stroke="#8c3f3f" font-size="7.2">M2ENA/B</text>
<text x="33" y="343.8" fill="#3e3c8a" stroke="#3e3c8a" font-size="7.2">R11</text>
<text x="48" y="343.8" fill="#3e3c8a" stroke="#3e3c8a" font-size="7.2">1k</text>
<line x1="0" y1="370.5" x2="73" y2="370.5" stroke="#44446f" stroke-width="1"/>
<polyline points="73,370.8 75.2,368.5 79.6,373.1 84,368.5 88.4,373.1 92.8,368.5 95,370.8" fill="none" stroke="#44446f" stroke-width="1"/>
<line x1="95" y1="370.5" x2="116" y2="370.5" stroke="#44446f" stroke-width="1"/>
<text x="0" y="369.1" fill="#8c3f3f" stroke="#8c3f3f" font-size="7.2">M2INA</text>
<text x="82.5" y="366.3" fill="#3e3c8a" stroke="#3e3c8a" font-size="7.2" text-anchor="end">R12</text>
<text x="87.8" y="366.3" fill="#3e3c8a" stroke="#3e3c8a" font-size="7.2">1k</text>
<line x1="0" y1="378.5" x2="51" y2="378.5" stroke="#44446f" stroke-width="1"/>
<polyline points="51,378.3 53.15,376 57.45,380.6 61.75,376 66.05,380.6 70.35,376 72.5,378.3" fill="none" stroke="#44446f" stroke-width="1"/>
<line x1="72.5" y1="378.5" x2="116" y2="378.5" stroke="#44446f" stroke-width="1"/>
<text x="0" y="376.6" fill="#8c3f3f" stroke="#8c3f3f" font-size="7.2">M2INB</text>
<text x="60" y="387.5" fill="#3e3c8a" stroke="#3e3c8a" font-size="7.2" text-anchor="end">R13</text>
<text x="66" y="387.5" fill="#3e3c8a" stroke="#3e3c8a" font-size="7.2">1k</text>
<line x1="0" y1="400.5" x2="80" y2="400.5" stroke="#44446f" stroke-width="1"/>
<polyline points="80,400.05 82.25,397.75 86.75,402.35 91.25,397.75 95.75,402.35 100.25,397.75 102.5,400.05" fill="none" stroke="#44446f" stroke-width="1"/>
<line x1="102.5" y1="400.5" x2="116" y2="400.5" stroke="#44446f" stroke-width="1"/>
<text x="0" y="398.1" fill="#8c3f3f" stroke="#8c3f3f" font-size="7.2">M2PWM</text>
<text x="89" y="394.8" fill="#3e3c8a" stroke="#3e3c8a" font-size="7.2" text-anchor="end">R14</text>
<text x="95" y="394.8" fill="#3e3c8a" stroke="#3e3c8a" font-size="7.2">1k</text>
<path d="M20.6 400.5L22.5 398.6L24.4 400.5L22.5 402.4Z" fill="#24245e" stroke="#24245e" stroke-width="0.6" stroke-linejoin="round"/>
<text x="87.5" y="413.3" fill="#3e3c8a" stroke="#3e3c8a" font-size="7.2">JP4</text>
<circle cx="95" cy="421.5" r="6.8" fill="#b9b9c9" stroke="#8a8aa6" stroke-width="0.9"/>
<line x1="91" y1="417.5" x2="99" y2="425.5" stroke="#5a5a7a" stroke-width="0.9"/>
<line x1="99" y1="417.5" x2="91" y2="425.5" stroke="#5a5a7a" stroke-width="0.9"/>
<line x1="101.8" y1="421.5" x2="116" y2="421.5" stroke="#44446f" stroke-width="1"/>
<line x1="0" y1="436.5" x2="51" y2="436.5" stroke="#44446f" stroke-width="1"/>
<polyline points="51,436.3 53.2,434 57.6,438.6 62,434 66.4,438.6 70.8,434 73,436.3" fill="none" stroke="#44446f" stroke-width="1"/>
<line x1="73" y1="436.5" x2="116" y2="436.5" stroke="#44446f" stroke-width="1"/>
<text x="0" y="434.5" fill="#8c3f3f" stroke="#8c3f3f" font-size="7.2">M2CS</text>
<text x="60" y="432.5" fill="#3e3c8a" stroke="#3e3c8a" font-size="7.2" text-anchor="end">R15</text>
<text x="66" y="432.5" fill="#3e3c8a" stroke="#3e3c8a" font-size="7.2">10k</text>
<path d="M35.6 436.5L37.5 434.6L39.4 436.5L37.5 438.4Z" fill="#24245e" stroke="#24245e" stroke-width="0.6" stroke-linejoin="round"/>
<path d="M85.6 436.5L87.5 434.6L89.4 436.5L87.5 438.4Z" fill="#24245e" stroke="#24245e" stroke-width="0.6" stroke-linejoin="round"/>
<line x1="22.5" y1="400.05" x2="22.5" y2="449.8" stroke="#44446f" stroke-width="1"/>
<polyline points="22,449.8 19.6,451.8 24.4,455.8 19.6,459.8 24.4,463.8 19.6,467.8 22,469.8" fill="none" stroke="#44446f" stroke-width="1"/>
<line x1="22.5" y1="469.8" x2="22.5" y2="518.8" stroke="#44446f" stroke-width="1"/>
<line x1="22.5" y1="518.8" x2="22.5" y2="524.8" stroke="#8a5454" stroke-width="1"/>
<line x1="14.5" y1="525.3" x2="29.5" y2="525.3" stroke="#8a5454" stroke-width="1.1"/>
<line x1="17" y1="527.5" x2="27" y2="527.5" stroke="#8a5454" stroke-width="1"/>
<line x1="19" y1="529.5" x2="25" y2="529.5" stroke="#8a5454" stroke-width="0.9"/>
<line x1="21" y1="532.5" x2="23" y2="532.5" stroke="#8a5454" stroke-width="0.8"/>
<text x="4" y="456.3" fill="#3e3c8a" stroke="#3e3c8a" font-size="7.2">R16</text>
<text x="4" y="467.5" fill="#3e3c8a" stroke="#3e3c8a" font-size="7.2">10k</text>
<line x1="31.5" y1="453.5" x2="42.5" y2="453.5" stroke="#44446f" stroke-width="1.3"/>
<line x1="31.5" y1="456.5" x2="42.5" y2="456.5" stroke="#44446f" stroke-width="1.3"/>
<line x1="37.5" y1="436.3" x2="37.5" y2="453.5" stroke="#44446f" stroke-width="1"/>
<line x1="37.5" y1="456.5" x2="37.5" y2="487.3" stroke="#44446f" stroke-width="1"/>
<text x="47.5" y="456.3" fill="#3e3c8a" stroke="#3e3c8a" font-size="7.2">C12</text>
<text x="44" y="464.3" fill="#3e3c8a" stroke="#3e3c8a" font-size="7.2">33 nF</text>
<line x1="87.5" y1="436.3" x2="87.5" y2="449.8" stroke="#44446f" stroke-width="1"/>
<polyline points="87.5,449.8 85.1,451.8 89.9,455.8 85.1,459.8 89.9,463.8 85.1,467.8 87.5,469.8" fill="none" stroke="#44446f" stroke-width="1"/>
<line x1="87.5" y1="469.8" x2="87.5" y2="487.3" stroke="#44446f" stroke-width="1"/>
<text x="90.5" y="456.3" fill="#3e3c8a" stroke="#3e3c8a" font-size="7.2">R17</text>
<text x="91.5" y="467.5" fill="#3e3c8a" stroke="#3e3c8a" font-size="7.2">1k</text>
<line x1="22" y1="487.5" x2="87.5" y2="487.5" stroke="#44446f" stroke-width="1"/>
<path d="M20.6 487.5L22.5 485.6L24.4 487.5L22.5 489.4Z" fill="#24245e" stroke="#24245e" stroke-width="0.6" stroke-linejoin="round"/>
<path d="M35.6 487.5L37.5 485.6L39.4 487.5L37.5 489.4Z" fill="#24245e" stroke="#24245e" stroke-width="0.6" stroke-linejoin="round"/>
<line x1="109.5" y1="458.1" x2="109.5" y2="518.8" stroke="#44446f" stroke-width="1"/>
<line x1="109.5" y1="518.8" x2="109.5" y2="524.8" stroke="#8a5454" stroke-width="1"/>
<line x1="102" y1="525.3" x2="117" y2="525.3" stroke="#8a5454" stroke-width="1.1"/>
<line x1="104.5" y1="527.5" x2="114.5" y2="527.5" stroke="#8a5454" stroke-width="1"/>
<line x1="106.5" y1="529.5" x2="112.5" y2="529.5" stroke="#8a5454" stroke-width="0.9"/>
<line x1="108.5" y1="532.5" x2="110.5" y2="532.5" stroke="#8a5454" stroke-width="0.8"/>
<line x1="109.5" y1="458.5" x2="131.3" y2="458.5" stroke="#5a5a6a" stroke-width="1"/>
<line x1="109.5" y1="465.5" x2="131.3" y2="465.5" stroke="#5a5a6a" stroke-width="1"/>
<path d="M107.6 465.5L109.5 463.6L111.4 465.5L109.5 467.4Z" fill="#24245e" stroke="#24245e" stroke-width="0.6" stroke-linejoin="round"/>
<line x1="109.5" y1="472.5" x2="131.3" y2="472.5" stroke="#5a5a6a" stroke-width="1"/>
<path d="M107.6 472.5L109.5 470.6L111.4 472.5L109.5 474.4Z" fill="#24245e" stroke="#24245e" stroke-width="0.6" stroke-linejoin="round"/>
<line x1="109.5" y1="480.5" x2="131.3" y2="480.5" stroke="#5a5a6a" stroke-width="1"/>
<path d="M107.6 480.5L109.5 478.6L111.4 480.5L109.5 482.4Z" fill="#24245e" stroke="#24245e" stroke-width="0.6" stroke-linejoin="round"/>
<line x1="109.5" y1="487.5" x2="131.3" y2="487.5" stroke="#5a5a6a" stroke-width="1"/>
<path d="M107.6 487.5L109.5 485.6L111.4 487.5L109.5 489.4Z" fill="#24245e" stroke="#24245e" stroke-width="0.6" stroke-linejoin="round"/>
<line x1="109.5" y1="494.5" x2="131.3" y2="494.5" stroke="#5a5a6a" stroke-width="1"/>
<path d="M107.6 494.5L109.5 492.6L111.4 494.5L109.5 496.4Z" fill="#24245e" stroke="#24245e" stroke-width="0.6" stroke-linejoin="round"/>
<line x1="109.5" y1="501.5" x2="131.3" y2="501.5" stroke="#5a5a6a" stroke-width="1"/>
<path d="M107.6 501.5L109.5 499.6L111.4 501.5L109.5 503.4Z" fill="#24245e" stroke="#24245e" stroke-width="0.6" stroke-linejoin="round"/>
<line x1="109.5" y1="509.5" x2="131.3" y2="509.5" stroke="#5a5a6a" stroke-width="1"/>
<path d="M107.6 509.5L109.5 507.6L111.4 509.5L109.5 511.4Z" fill="#24245e" stroke="#24245e" stroke-width="0.6" stroke-linejoin="round"/>
<rect x="131.3" y="342.2" width="108.7" height="174.1" fill="#f9f1ac" stroke="#8e6a55" stroke-width="1"/>
<text x="131" y="340.1" fill="#3e3c8a" stroke="#3e3c8a" font-size="7.2">VNH5019A-E</text>
<line x1="116" y1="349.5" x2="131.3" y2="349.5" stroke="#5a5a6a" stroke-width="1"/>
<text x="126.3" y="347.7" fill="#3a3a3a" stroke="#3a3a3a" font-size="7.2" text-anchor="end">5</text>
<text x="137" y="351.9" fill="#3a3a26" stroke="#3a3a26" font-size="7.2">ENA/DIAGA</text>
<ellipse cx="127.3" cy="349.5" rx="2.6" ry="1.4" fill="#dddddd" stroke="#444444" stroke-width="0.9"/>
<line x1="116" y1="356.5" x2="131.3" y2="356.5" stroke="#5a5a6a" stroke-width="1"/>
<text x="126.3" y="355.2" fill="#3a3a3a" stroke="#3a3a3a" font-size="7.2" text-anchor="end">6</text>
<text x="137" y="359.4" fill="#3a3a26" stroke="#3a3a26" font-size="7.2">ENB/DIAGB</text>
<ellipse cx="127.3" cy="356.5" rx="2.6" ry="1.4" fill="#dddddd" stroke="#444444" stroke-width="0.9"/>
<line x1="116" y1="370.5" x2="131.3" y2="370.5" stroke="#5a5a6a" stroke-width="1"/>
<text x="126.3" y="369.2" fill="#3a3a3a" stroke="#3a3a3a" font-size="7.2" text-anchor="end">4</text>
<text x="137" y="373.4" fill="#3a3a26" stroke="#3a3a26" font-size="7.2">INA</text>
<ellipse cx="127.3" cy="370.5" rx="2.6" ry="1.4" fill="#dddddd" stroke="#444444" stroke-width="0.9"/>
<line x1="116" y1="378.5" x2="131.3" y2="378.5" stroke="#5a5a6a" stroke-width="1"/>
<text x="126.3" y="376.7" fill="#3a3a3a" stroke="#3a3a3a" font-size="7.2" text-anchor="end">10</text>
<text x="137" y="380.9" fill="#3a3a26" stroke="#3a3a26" font-size="7.2">INB</text>
<ellipse cx="127.3" cy="378.5" rx="2.6" ry="1.4" fill="#dddddd" stroke="#444444" stroke-width="0.9"/>
<line x1="116" y1="400.5" x2="131.3" y2="400.5" stroke="#5a5a6a" stroke-width="1"/>
<text x="126.3" y="398.45" fill="#3a3a3a" stroke="#3a3a3a" font-size="7.2" text-anchor="end">7</text>
<text x="137" y="402.65" fill="#3a3a26" stroke="#3a3a26" font-size="7.2">PWM</text>
<ellipse cx="127.3" cy="400.5" rx="2.6" ry="1.4" fill="#dddddd" stroke="#444444" stroke-width="0.9"/>
<line x1="116" y1="421.5" x2="131.3" y2="421.5" stroke="#5a5a6a" stroke-width="1"/>
<text x="126.3" y="419.9" fill="#3a3a3a" stroke="#3a3a3a" font-size="7.2" text-anchor="end">6</text>
<text x="137" y="424.1" fill="#3a3a26" stroke="#3a3a26" font-size="7.2">CS_DIS</text>
<ellipse cx="127.3" cy="421.5" rx="2.6" ry="1.4" fill="#dddddd" stroke="#444444" stroke-width="0.9"/>
<line x1="116" y1="436.5" x2="131.3" y2="436.5" stroke="#5a5a6a" stroke-width="1"/>
<text x="126.3" y="434.7" fill="#3a3a3a" stroke="#3a3a3a" font-size="7.2" text-anchor="end">8</text>
<text x="137" y="438.9" fill="#3a3a26" stroke="#3a3a26" font-size="7.2">CS</text>
<path d="M131.3 434.7L127.9 436.5L131.3 438.3" fill="none" stroke="#444444" stroke-width="0.8"/>
<text x="126.3" y="456.5" fill="#3a3a3a" stroke="#3a3a3a" font-size="7.2" text-anchor="end">17</text>
<text x="126.3" y="463.5" fill="#3a3a3a" stroke="#3a3a3a" font-size="7.2" text-anchor="end">29</text>
<text x="126.3" y="470.7" fill="#3a3a3a" stroke="#3a3a3a" font-size="7.2" text-anchor="end">26</text>
<text x="126.3" y="478.4" fill="#3a3a3a" stroke="#3a3a3a" font-size="7.2" text-anchor="end">27</text>
<text x="126.3" y="485.7" fill="#3a3a3a" stroke="#3a3a3a" font-size="7.2" text-anchor="end">28</text>
<text x="126.3" y="493" fill="#3a3a3a" stroke="#3a3a3a" font-size="7.2" text-anchor="end">18</text>
<text x="126.3" y="500.2" fill="#3a3a3a" stroke="#3a3a3a" font-size="7.2" text-anchor="end">19</text>
<text x="126.3" y="507.5" fill="#3a3a3a" stroke="#3a3a3a" font-size="7.2" text-anchor="end">20</text>
<text x="137" y="460.7" fill="#3a3a26" stroke="#3a3a26" font-size="7.2">NC</text>
<text x="137" y="467.7" fill="#3a3a26" stroke="#3a3a26" font-size="7.2">NC</text>
<text x="137" y="474.9" fill="#3a3a26" stroke="#3a3a26" font-size="7.2">GNDA</text>
<text x="137" y="482.6" fill="#3a3a26" stroke="#3a3a26" font-size="7.2">GNDA</text>
<text x="137" y="489.9" fill="#3a3a26" stroke="#3a3a26" font-size="7.2">GNDA</text>
<text x="137" y="497.2" fill="#3a3a26" stroke="#3a3a26" font-size="7.2">GNDB</text>
<text x="137" y="504.4" fill="#3a3a26" stroke="#3a3a26" font-size="7.2">GNDB</text>
<text x="137" y="511.7" fill="#3a3a26" stroke="#3a3a26" font-size="7.2">GNDB</text>
<text x="175.8" y="289.6" fill="#8c3f3f" stroke="#8c3f3f" font-size="7.2" text-anchor="middle">VIN</text>
<line x1="172.5" y1="291.5" x2="178.5" y2="291.5" stroke="#8a5454" stroke-width="0.9"/>
<line x1="175.5" y1="291.1" x2="175.5" y2="305.3" stroke="#44446f" stroke-width="1"/>
<line x1="175.5" y1="305.5" x2="211" y2="305.5" stroke="#44446f" stroke-width="1"/>
<line x1="216.7" y1="305.5" x2="320.3" y2="305.5" stroke="#44446f" stroke-width="1"/>
<path d="M187.6 305.5L189.5 303.6L191.4 305.5L189.5 307.4Z" fill="#24245e" stroke="#24245e" stroke-width="0.6" stroke-linejoin="round"/>
<line x1="189.5" y1="305.3" x2="189.5" y2="342.2" stroke="#5a5a6a" stroke-width="1"/>
<text x="203.5" y="295.8" fill="#3e3c8a" stroke="#3e3c8a" font-size="7.2">Q2</text>
<polyline points="204.3,305.3 204.3,300.6 219,300.6 219,305.3" fill="none" stroke="#7a84b4" stroke-width="0.9"/>
<path d="M209.3 298.2L209.3 303L213.3 300.6Z" fill="#2f4c9c"/>
<line x1="213.5" y1="298.2" x2="213.5" y2="303" stroke="#2f4c9c" stroke-width="1"/>
<line x1="206.5" y1="305.3" x2="206.5" y2="313.6" stroke="#555570" stroke-width="0.9"/>
<line x1="216.5" y1="305.3" x2="216.5" y2="313.6" stroke="#555570" stroke-width="0.9"/>
<line x1="205.2" y1="313.5" x2="218" y2="313.5" stroke="#7a84b4" stroke-width="0.9"/>
<path d="M209.6 308.1L213.4 308.1L211.5 311.4Z" fill="#2f4c9c"/>
<line x1="211.5" y1="307.8" x2="211.5" y2="313.8" stroke="#2f4c9c" stroke-width="1"/>
<line x1="211.5" y1="314.4" x2="211.5" y2="342.2" stroke="#5a5a6a" stroke-width="1"/>
<text x="242.1" y="289.6" fill="#8c3f3f" stroke="#8c3f3f" font-size="7.2" text-anchor="middle">VOUT</text>
<line x1="237.8" y1="291.5" x2="243.8" y2="291.5" stroke="#8a5454" stroke-width="0.9"/>
<line x1="240.5" y1="291.1" x2="240.5" y2="305.3" stroke="#44446f" stroke-width="1"/>
<path d="M238.6 305.5L240.5 303.6L242.4 305.5L240.5 307.4Z" fill="#24245e" stroke="#24245e" stroke-width="0.6" stroke-linejoin="round"/>
<text x="192.5" y="332.4" fill="#3a3a3a" stroke="#3a3a3a" font-size="7.2" transform="rotate(90 192.5 332.4)">12</text>
<text x="214" y="332.4" fill="#3a3a3a" stroke="#3a3a3a" font-size="7.2" transform="rotate(90 214 332.4)">11</text>
<text x="186.8" y="345.8" fill="#3a3a26" stroke="#3a3a26" font-size="7.2" transform="rotate(90 186.8 345.8)">VBAT</text>
<text x="208.4" y="346.3" fill="#3a3a26" stroke="#3a3a26" font-size="7.2" transform="rotate(90 208.4 346.3)">CP</text>
<line x1="262.5" y1="305.3" x2="262.5" y2="393" stroke="#44446f" stroke-width="1"/>
<path d="M260.6 305.5L262.5 303.6L264.4 305.5L262.5 307.4Z" fill="#24245e" stroke="#24245e" stroke-width="0.6" stroke-linejoin="round"/>
<line x1="240" y1="355.5" x2="262.5" y2="355.5" stroke="#5a5a6a" stroke-width="1"/>
<text x="245.5" y="354.4" fill="#3a3a3a" stroke="#3a3a3a" font-size="7.2">23</text>
<text x="236.5" y="358.4" fill="#3a3a26" stroke="#3a3a26" font-size="7.2" text-anchor="end">VCC</text>
<path d="M260.6 355.5L262.5 353.6L264.4 355.5L262.5 357.4Z" fill="#24245e" stroke="#24245e" stroke-width="0.6" stroke-linejoin="round"/>
<line x1="240" y1="363.5" x2="262.5" y2="363.5" stroke="#5a5a6a" stroke-width="1"/>
<text x="245.5" y="361.7" fill="#3a3a3a" stroke="#3a3a3a" font-size="7.2">13</text>
<text x="236.5" y="365.7" fill="#3a3a26" stroke="#3a3a26" font-size="7.2" text-anchor="end">VCC</text>
<path d="M260.6 363.5L262.5 361.6L264.4 363.5L262.5 365.4Z" fill="#24245e" stroke="#24245e" stroke-width="0.6" stroke-linejoin="round"/>
<line x1="240" y1="370.5" x2="262.5" y2="370.5" stroke="#5a5a6a" stroke-width="1"/>
<text x="245.5" y="369.4" fill="#3a3a3a" stroke="#3a3a3a" font-size="7.2">3</text>
<text x="236.5" y="373.4" fill="#3a3a26" stroke="#3a3a26" font-size="7.2" text-anchor="end">VCC</text>
<path d="M260.6 370.5L262.5 368.6L264.4 370.5L262.5 372.4Z" fill="#24245e" stroke="#24245e" stroke-width="0.6" stroke-linejoin="round"/>
<line x1="240" y1="378.5" x2="262.5" y2="378.5" stroke="#5a5a6a" stroke-width="1"/>
<text x="245.5" y="376.7" fill="#3a3a3a" stroke="#3a3a3a" font-size="7.2">2</text>
<text x="236.5" y="380.7" fill="#3a3a26" stroke="#3a3a26" font-size="7.2" text-anchor="end">NC</text>
<path d="M260.6 378.5L262.5 376.6L264.4 378.5L262.5 380.4Z" fill="#24245e" stroke="#24245e" stroke-width="0.6" stroke-linejoin="round"/>
<line x1="240" y1="385.5" x2="262.5" y2="385.5" stroke="#5a5a6a" stroke-width="1"/>
<text x="245.5" y="383.7" fill="#3a3a3a" stroke="#3a3a3a" font-size="7.2">14</text>
<text x="236.5" y="387.7" fill="#3a3a26" stroke="#3a3a26" font-size="7.2" text-anchor="end">NC</text>
<path d="M260.6 385.5L262.5 383.6L264.4 385.5L262.5 387.4Z" fill="#24245e" stroke="#24245e" stroke-width="0.6" stroke-linejoin="round"/>
<line x1="240" y1="393.5" x2="262.5" y2="393.5" stroke="#5a5a6a" stroke-width="1"/>
<text x="245.5" y="391.6" fill="#3a3a3a" stroke="#3a3a3a" font-size="7.2">31</text>
<text x="236.5" y="395.6" fill="#3a3a26" stroke="#3a3a26" font-size="7.2" text-anchor="end">VCC/HEATSLG1</text>
<line x1="278.5" y1="322.5" x2="289.5" y2="322.5" stroke="#44446f" stroke-width="1.3"/>
<line x1="278.5" y1="325.5" x2="289.5" y2="325.5" stroke="#44446f" stroke-width="1.3"/>
<text x="287" y="319.9" fill="#3e3c8a" stroke="#3e3c8a" font-size="5.5">+</text>
<line x1="284.5" y1="305.3" x2="284.5" y2="322.5" stroke="#44446f" stroke-width="1"/>
<line x1="284.5" y1="325.5" x2="284.5" y2="349.8" stroke="#44446f" stroke-width="1"/>
<path d="M282.6 305.5L284.5 303.6L286.4 305.5L284.5 307.4Z" fill="#24245e" stroke="#24245e" stroke-width="0.6" stroke-linejoin="round"/>
<path d="M282.6 341.5L284.5 339.6L286.4 341.5L284.5 343.4Z" fill="#24245e" stroke="#24245e" stroke-width="0.6" stroke-linejoin="round"/>
<line x1="284.5" y1="349.8" x2="284.5" y2="355.8" stroke="#8a5454" stroke-width="1"/>
<line x1="276.5" y1="356.3" x2="291.5" y2="356.3" stroke="#8a5454" stroke-width="1.1"/>
<line x1="279" y1="358.5" x2="289" y2="358.5" stroke="#8a5454" stroke-width="1"/>
<line x1="281" y1="360.5" x2="287" y2="360.5" stroke="#8a5454" stroke-width="0.9"/>
<line x1="283" y1="363.5" x2="285" y2="363.5" stroke="#8a5454" stroke-width="0.8"/>
<text x="292" y="321.2" fill="#3e3c8a" stroke="#3e3c8a" font-size="7.2">C10</text>
<text x="292" y="328.3" fill="#3e3c8a" stroke="#3e3c8a" font-size="7.2">47uF</text>
<line x1="314.8" y1="322.5" x2="325.8" y2="322.5" stroke="#44446f" stroke-width="1.3"/>
<line x1="314.8" y1="325.5" x2="325.8" y2="325.5" stroke="#44446f" stroke-width="1.3"/>
<line x1="320.5" y1="305.3" x2="320.5" y2="322.5" stroke="#44446f" stroke-width="1"/>
<line x1="320.5" y1="325.5" x2="320.5" y2="341.8" stroke="#44446f" stroke-width="1"/>
<text x="332" y="321.2" fill="#3e3c8a" stroke="#3e3c8a" font-size="7.2">C11</text>
<text x="332" y="328.3" fill="#3e3c8a" stroke="#3e3c8a" font-size="7.2">0.1 uF</text>
<line x1="284" y1="341.5" x2="320.3" y2="341.5" stroke="#44446f" stroke-width="1"/>
<line x1="262.5" y1="421.8" x2="262.5" y2="451.1" stroke="#44446f" stroke-width="1"/>
<line x1="240" y1="421.5" x2="262.5" y2="421.5" stroke="#5a5a6a" stroke-width="1"/>
<text x="245.5" y="420.4" fill="#3a3a3a" stroke="#3a3a3a" font-size="7.2">30</text>
<text x="236.5" y="424.4" fill="#3a3a26" stroke="#3a3a26" font-size="7.2" text-anchor="end">OUTA</text>
<path d="M260.6 421.5L262.5 419.6L264.4 421.5L262.5 423.4Z" fill="#24245e" stroke="#24245e" stroke-width="0.6" stroke-linejoin="round"/>
<path d="M240 419.7L243.4 421.5L240 423.3" fill="none" stroke="#444444" stroke-width="0.8"/>
<line x1="240" y1="429.5" x2="262.5" y2="429.5" stroke="#5a5a6a" stroke-width="1"/>
<text x="245.5" y="427.6" fill="#3a3a3a" stroke="#3a3a3a" font-size="7.2">25</text>
<text x="236.5" y="431.6" fill="#3a3a26" stroke="#3a3a26" font-size="7.2" text-anchor="end">OUTA</text>
<path d="M260.6 429.5L262.5 427.6L264.4 429.5L262.5 431.4Z" fill="#24245e" stroke="#24245e" stroke-width="0.6" stroke-linejoin="round"/>
<path d="M240 427.7L243.4 429.5L240 431.3" fill="none" stroke="#444444" stroke-width="0.8"/>
<line x1="240" y1="436.5" x2="262.5" y2="436.5" stroke="#5a5a6a" stroke-width="1"/>
<text x="245.5" y="434.9" fill="#3a3a3a" stroke="#3a3a3a" font-size="7.2">1</text>
<text x="236.5" y="438.9" fill="#3a3a26" stroke="#3a3a26" font-size="7.2" text-anchor="end">OUTA</text>
<path d="M260.6 436.5L262.5 434.6L264.4 436.5L262.5 438.4Z" fill="#24245e" stroke="#24245e" stroke-width="0.6" stroke-linejoin="round"/>
<path d="M240 434.7L243.4 436.5L240 438.3" fill="none" stroke="#444444" stroke-width="0.8"/>
<line x1="240" y1="443.5" x2="262.5" y2="443.5" stroke="#5a5a6a" stroke-width="1"/>
<text x="245.5" y="442" fill="#3a3a3a" stroke="#3a3a3a" font-size="7.2">33</text>
<text x="236.5" y="446" fill="#3a3a26" stroke="#3a3a26" font-size="7.2" text-anchor="end">OUTA/HEATSLG2</text>
<path d="M260.6 443.5L262.5 441.6L264.4 443.5L262.5 445.4Z" fill="#24245e" stroke="#24245e" stroke-width="0.6" stroke-linejoin="round"/>
<path d="M240 441.7L243.4 443.5L240 445.3" fill="none" stroke="#444444" stroke-width="0.8"/>
<line x1="240" y1="451.5" x2="262.5" y2="451.5" stroke="#5a5a6a" stroke-width="1"/>
<text x="245.5" y="449.7" fill="#3a3a3a" stroke="#3a3a3a" font-size="7.2">24</text>
<text x="236.5" y="453.7" fill="#3a3a26" stroke="#3a3a26" font-size="7.2" text-anchor="end">NC</text>
<line x1="262.5" y1="480" x2="262.5" y2="509" stroke="#44446f" stroke-width="1"/>
<line x1="240" y1="480.5" x2="262.5" y2="480.5" stroke="#5a5a6a" stroke-width="1"/>
<text x="245.5" y="478.6" fill="#3a3a3a" stroke="#3a3a3a" font-size="7.2">21</text>
<text x="236.5" y="482.6" fill="#3a3a26" stroke="#3a3a26" font-size="7.2" text-anchor="end">OUTB</text>
<path d="M240 478.7L243.4 480.5L240 482.3" fill="none" stroke="#444444" stroke-width="0.8"/>
<line x1="240" y1="487.5" x2="262.5" y2="487.5" stroke="#5a5a6a" stroke-width="1"/>
<text x="245.5" y="485.8" fill="#3a3a3a" stroke="#3a3a3a" font-size="7.2">16</text>
<text x="236.5" y="489.8" fill="#3a3a26" stroke="#3a3a26" font-size="7.2" text-anchor="end">OUTB</text>
<path d="M260.6 487.5L262.5 485.6L264.4 487.5L262.5 489.4Z" fill="#24245e" stroke="#24245e" stroke-width="0.6" stroke-linejoin="round"/>
<path d="M240 485.7L243.4 487.5L240 489.3" fill="none" stroke="#444444" stroke-width="0.8"/>
<line x1="240" y1="494.5" x2="262.5" y2="494.5" stroke="#5a5a6a" stroke-width="1"/>
<text x="245.5" y="493" fill="#3a3a3a" stroke="#3a3a3a" font-size="7.2">15</text>
<text x="236.5" y="497" fill="#3a3a26" stroke="#3a3a26" font-size="7.2" text-anchor="end">OUTB</text>
<path d="M260.6 494.5L262.5 492.6L264.4 494.5L262.5 496.4Z" fill="#24245e" stroke="#24245e" stroke-width="0.6" stroke-linejoin="round"/>
<path d="M240 492.7L243.4 494.5L240 496.3" fill="none" stroke="#444444" stroke-width="0.8"/>
<line x1="240" y1="501.5" x2="262.5" y2="501.5" stroke="#5a5a6a" stroke-width="1"/>
<text x="245.5" y="500.2" fill="#3a3a3a" stroke="#3a3a3a" font-size="7.2">32</text>
<text x="236.5" y="504.2" fill="#3a3a26" stroke="#3a3a26" font-size="7.2" text-anchor="end">OUTB/HEATSLG3</text>
<path d="M260.6 501.5L262.5 499.6L264.4 501.5L262.5 503.4Z" fill="#24245e" stroke="#24245e" stroke-width="0.6" stroke-linejoin="round"/>
<path d="M240 499.7L243.4 501.5L240 503.3" fill="none" stroke="#444444" stroke-width="0.8"/>
<line x1="240" y1="509.5" x2="262.5" y2="509.5" stroke="#5a5a6a" stroke-width="1"/>
<text x="245.5" y="507.6" fill="#3a3a3a" stroke="#3a3a3a" font-size="7.2">22</text>
<text x="236.5" y="511.6" fill="#3a3a26" stroke="#3a3a26" font-size="7.2" text-anchor="end">NC</text>
<path d="M260.6 509.5L262.5 507.6L264.4 509.5L262.5 511.4Z" fill="#24245e" stroke="#24245e" stroke-width="0.6" stroke-linejoin="round"/>
<line x1="262.5" y1="421.5" x2="365" y2="421.5" stroke="#44446f" stroke-width="1"/>
<text x="365" y="419.8" fill="#8c3f3f" stroke="#8c3f3f" font-size="7.2" text-anchor="end">M2OUTA</text>
<line x1="262.5" y1="509.5" x2="365" y2="509.5" stroke="#44446f" stroke-width="1"/>
<text x="365" y="506.8" fill="#8c3f3f" stroke="#8c3f3f" font-size="7.2" text-anchor="end">M2OUTB</text>
<path d="M289.6 421.5L291.5 419.6L293.4 421.5L291.5 423.4Z" fill="#24245e" stroke="#24245e" stroke-width="0.6" stroke-linejoin="round"/>
<path d="M311.6 421.5L313.5 419.6L315.4 421.5L313.5 423.4Z" fill="#24245e" stroke="#24245e" stroke-width="0.6" stroke-linejoin="round"/>
<line x1="291.5" y1="421.8" x2="291.5" y2="468.8" stroke="#44446f" stroke-width="1"/>
<line x1="313.5" y1="421.8" x2="313.5" y2="468.8" stroke="#44446f" stroke-width="1"/>
<rect x="284" y="443.6" width="37" height="8" fill="#ffffff"/>
<line x1="291.5" y1="421.8" x2="291.5" y2="468.8" stroke="#44446f" stroke-width="1"/>
<line x1="313.5" y1="421.8" x2="313.5" y2="468.8" stroke="#44446f" stroke-width="1"/>
<path d="M284.5 451.4L298.5 451.4L291.5 443.8Z" fill="#2f4c9c"/>
<line x1="284.5" y1="443.5" x2="298.5" y2="443.5" stroke="#2f4c9c" stroke-width="1"/>
<path d="M306.2 443.8L320.2 443.8L313.2 451.4Z" fill="#2f4c9c"/>
<line x1="306.2" y1="451.5" x2="320.2" y2="451.5" stroke="#2f4c9c" stroke-width="1"/>
<line x1="281.37" y1="444.43" x2="277.48" y2="440.54" stroke="#34449a" stroke-width="1"/>
<path d="M276.42 439.48L279.39 440.47L277.41 442.45Z" fill="#34449a"/>
<line x1="283.63" y1="442.17" x2="279.74" y2="438.28" stroke="#34449a" stroke-width="1"/>
<path d="M278.68 437.22L281.65 438.21L279.67 440.19Z" fill="#34449a"/>
<line x1="323.63" y1="452.17" x2="327.52" y2="456.06" stroke="#34449a" stroke-width="1"/>
<path d="M328.58 457.12L325.61 456.13L327.59 454.15Z" fill="#34449a"/>
<line x1="321.37" y1="454.43" x2="325.26" y2="458.32" stroke="#34449a" stroke-width="1"/>
<path d="M326.32 459.38L323.35 458.39L325.33 456.41Z" fill="#34449a"/>
<line x1="291.5" y1="468.5" x2="313.2" y2="468.5" stroke="#44446f" stroke-width="1"/>
<path d="M300.6 468.5L302.5 466.6L304.4 468.5L302.5 470.4Z" fill="#24245e" stroke="#24245e" stroke-width="0.6" stroke-linejoin="round"/>
<line x1="302.5" y1="468.8" x2="302.5" y2="478.8" stroke="#44446f" stroke-width="1"/>
<polyline points="302.6,478.8 300.2,481.05 305,485.55 300.2,490.05 305,494.55 300.2,499.05 302.6,501.3" fill="none" stroke="#44446f" stroke-width="1"/>
<line x1="302.5" y1="501.3" x2="302.5" y2="509" stroke="#44446f" stroke-width="1"/>
<path d="M300.6 509.5L302.5 507.6L304.4 509.5L302.5 511.4Z" fill="#24245e" stroke="#24245e" stroke-width="0.6" stroke-linejoin="round"/>
<text x="274" y="456.4" fill="#3e3c8a" stroke="#3e3c8a" font-size="7.2">D4</text>
<text x="274" y="463.2" fill="#3e3c8a" stroke="#3e3c8a" font-size="7.2">RED</text>
<text x="317.3" y="438.6" fill="#3e3c8a" stroke="#3e3c8a" font-size="7.2">GREEN</text>
<text x="324.8" y="445" fill="#3e3c8a" stroke="#3e3c8a" font-size="7.2">D3</text>
<text x="309.5" y="486.4" fill="#3e3c8a" stroke="#3e3c8a" font-size="7.2">R18</text>
<text x="309.5" y="495.3" fill="#3e3c8a" stroke="#3e3c8a" font-size="7.2">4.7k</text>
<text x="424.5" y="47.5" fill="#8c3f3f" stroke="#8c3f3f" font-size="7.2" text-anchor="middle">VIN</text>
<line x1="420.5" y1="49.5" x2="426.5" y2="49.5" stroke="#8a5454" stroke-width="0.9"/>
<line x1="418" y1="73.5" x2="429" y2="73.5" stroke="#44446f" stroke-width="1.3"/>
<line x1="418" y1="76.5" x2="429" y2="76.5" stroke="#44446f" stroke-width="1.3"/>
<line x1="423.5" y1="49" x2="423.5" y2="73.5" stroke="#44446f" stroke-width="1"/>
<line x1="423.5" y1="76.5" x2="423.5" y2="99" stroke="#44446f" stroke-width="1"/>
<line x1="416" y1="99.5" x2="431" y2="99.5" stroke="#8a5454" stroke-width="1.1"/>
<line x1="418.5" y1="101.5" x2="428.5" y2="101.5" stroke="#8a5454" stroke-width="1"/>
<line x1="420.5" y1="104.5" x2="426.5" y2="104.5" stroke="#8a5454" stroke-width="0.9"/>
<line x1="422.5" y1="106.5" x2="424.5" y2="106.5" stroke="#8a5454" stroke-width="0.8"/>
<text x="431.5" y="72.4" fill="#3e3c8a" stroke="#3e3c8a" font-size="7.2">C1</text>
<text x="431.5" y="80.2" fill="#3e3c8a" stroke="#3e3c8a" font-size="7.2">1 uF</text>
<text x="456" y="47.5" fill="#8c3f3f" stroke="#8c3f3f" font-size="7.2" text-anchor="middle">VIN</text>
<line x1="452" y1="49.5" x2="458" y2="49.5" stroke="#8a5454" stroke-width="0.9"/>
<line x1="449.5" y1="73.5" x2="460.5" y2="73.5" stroke="#44446f" stroke-width="1.3"/>
<line x1="449.5" y1="76.5" x2="460.5" y2="76.5" stroke="#44446f" stroke-width="1.3"/>
<line x1="455.5" y1="49" x2="455.5" y2="73.5" stroke="#44446f" stroke-width="1"/>
<line x1="455.5" y1="76.5" x2="455.5" y2="99" stroke="#44446f" stroke-width="1"/>
<line x1="447.5" y1="99.5" x2="462.5" y2="99.5" stroke="#8a5454" stroke-width="1.1"/>
<line x1="450" y1="101.5" x2="460" y2="101.5" stroke="#8a5454" stroke-width="1"/>
<line x1="452" y1="104.5" x2="458" y2="104.5" stroke="#8a5454" stroke-width="0.9"/>
<line x1="454" y1="106.5" x2="456" y2="106.5" stroke="#8a5454" stroke-width="0.8"/>
<text x="463" y="72.4" fill="#3e3c8a" stroke="#3e3c8a" font-size="7.2">C2</text>
<text x="463" y="80.2" fill="#3e3c8a" stroke="#3e3c8a" font-size="7.2">1 uF</text>
<text x="499.1" y="54.5" fill="#8c3f3f" stroke="#8c3f3f" font-size="7.2" text-anchor="middle">VOUT</text>
<line x1="494.3" y1="56.5" x2="500.3" y2="56.5" stroke="#8a5454" stroke-width="0.9"/>
<line x1="491.8" y1="73.5" x2="502.8" y2="73.5" stroke="#44446f" stroke-width="1.3"/>
<line x1="491.8" y1="76.5" x2="502.8" y2="76.5" stroke="#44446f" stroke-width="1.3"/>
<text x="500.3" y="70.9" fill="#3e3c8a" stroke="#3e3c8a" font-size="5.5">+</text>
<line x1="497.5" y1="56" x2="497.5" y2="73.5" stroke="#44446f" stroke-width="1"/>
<line x1="497.5" y1="76.5" x2="497.5" y2="92" stroke="#44446f" stroke-width="1"/>
<line x1="489.8" y1="92.5" x2="504.8" y2="92.5" stroke="#8a5454" stroke-width="1.1"/>
<line x1="492.3" y1="94.5" x2="502.3" y2="94.5" stroke="#8a5454" stroke-width="1"/>
<line x1="494.3" y1="97.5" x2="500.3" y2="97.5" stroke="#8a5454" stroke-width="0.9"/>
<line x1="496.3" y1="99.5" x2="498.3" y2="99.5" stroke="#8a5454" stroke-width="0.8"/>
<text x="505.3" y="72.4" fill="#3e3c8a" stroke="#3e3c8a" font-size="7.2">C6</text>
<text x="505.3" y="80.2" fill="#3e3c8a" stroke="#3e3c8a" font-size="7.2">NP</text>
<text x="529.1" y="54.5" fill="#8c3f3f" stroke="#8c3f3f" font-size="7.2" text-anchor="middle">VOUT</text>
<line x1="524.3" y1="56.5" x2="530.3" y2="56.5" stroke="#8a5454" stroke-width="0.9"/>
<line x1="521.8" y1="73.5" x2="532.8" y2="73.5" stroke="#44446f" stroke-width="1.3"/>
<line x1="521.8" y1="76.5" x2="532.8" y2="76.5" stroke="#44446f" stroke-width="1.3"/>
<text x="530.3" y="70.9" fill="#3e3c8a" stroke="#3e3c8a" font-size="5.5">+</text>
<line x1="527.5" y1="56" x2="527.5" y2="73.5" stroke="#44446f" stroke-width="1"/>
<line x1="527.5" y1="76.5" x2="527.5" y2="92" stroke="#44446f" stroke-width="1"/>
<line x1="519.8" y1="92.5" x2="534.8" y2="92.5" stroke="#8a5454" stroke-width="1.1"/>
<line x1="522.3" y1="94.5" x2="532.3" y2="94.5" stroke="#8a5454" stroke-width="1"/>
<line x1="524.3" y1="97.5" x2="530.3" y2="97.5" stroke="#8a5454" stroke-width="0.9"/>
<line x1="526.3" y1="99.5" x2="528.3" y2="99.5" stroke="#8a5454" stroke-width="0.8"/>
<text x="535.3" y="72.4" fill="#3e3c8a" stroke="#3e3c8a" font-size="7.2">C8</text>
<text x="535.3" y="80.2" fill="#3e3c8a" stroke="#3e3c8a" font-size="7.2">NP</text>
<text x="566.2" y="54.5" fill="#8c3f3f" stroke="#8c3f3f" font-size="7.2" text-anchor="middle">VOUT</text>
<line x1="561" y1="56.5" x2="567" y2="56.5" stroke="#8a5454" stroke-width="0.9"/>
<line x1="564.5" y1="56" x2="564.5" y2="114" stroke="#44446f" stroke-width="1"/>
<path d="M557 78L571 78L564 85Z" fill="#2f4c9c"/>
<line x1="557" y1="85.5" x2="571" y2="85.5" stroke="#2f4c9c" stroke-width="1"/>
<line x1="574.13" y1="86.37" x2="578.02" y2="90.26" stroke="#34449a" stroke-width="1"/>
<path d="M579.08 91.32L576.11 90.33L578.09 88.35Z" fill="#34449a"/>
<line x1="571.87" y1="88.63" x2="575.76" y2="92.52" stroke="#34449a" stroke-width="1"/>
<path d="M576.82 93.58L573.85 92.59L575.83 90.61Z" fill="#34449a"/>
<text x="568" y="72.8" fill="#3e3c8a" stroke="#3e3c8a" font-size="7.2">BLUE</text>
<text x="577" y="80.3" fill="#3e3c8a" stroke="#3e3c8a" font-size="7.2">D5</text>
<polyline points="564,114 561.6,116.2 566.4,120.6 561.6,125 566.4,129.4 561.6,133.8 564,136" fill="none" stroke="#44446f" stroke-width="1"/>
<line x1="564.5" y1="136" x2="564.5" y2="150" stroke="#44446f" stroke-width="1"/>
<line x1="556.5" y1="150.5" x2="571.5" y2="150.5" stroke="#8a5454" stroke-width="1.1"/>
<line x1="559" y1="152.5" x2="569" y2="152.5" stroke="#8a5454" stroke-width="1"/>
<line x1="561" y1="155.5" x2="567" y2="155.5" stroke="#8a5454" stroke-width="0.9"/>
<line x1="563" y1="157.5" x2="565" y2="157.5" stroke="#8a5454" stroke-width="0.8"/>
<text x="572.5" y="120.3" fill="#3e3c8a" stroke="#3e3c8a" font-size="7.2">R19</text>
<text x="572" y="131.3" fill="#3e3c8a" stroke="#3e3c8a" font-size="7.2">4.7k</text>
<text x="428" y="236.2" fill="#3e3c8a" stroke="#3e3c8a" font-size="7.2">JP3</text>
<line x1="388" y1="244.5" x2="427.5" y2="244.5" stroke="#44446f" stroke-width="1"/>
<text x="388" y="243.5" fill="#8c3f3f" stroke="#8c3f3f" font-size="7.2">M1ENA/B</text>
<line x1="388" y1="252.5" x2="427.5" y2="252.5" stroke="#44446f" stroke-width="1"/>
<text x="388" y="250.8" fill="#8c3f3f" stroke="#8c3f3f" font-size="7.2">M1INA</text>
<line x1="388" y1="259.5" x2="427.5" y2="259.5" stroke="#44446f" stroke-width="1"/>
<text x="388" y="258" fill="#8c3f3f" stroke="#8c3f3f" font-size="7.2">M1INB</text>
<line x1="388" y1="266.5" x2="427.5" y2="266.5" stroke="#44446f" stroke-width="1"/>
<text x="388" y="265.1" fill="#8c3f3f" stroke="#8c3f3f" font-size="7.2">M1PWM</text>
<line x1="388" y1="273.5" x2="427.5" y2="273.5" stroke="#44446f" stroke-width="1"/>
<text x="388" y="272.6" fill="#8c3f3f" stroke="#8c3f3f" font-size="7.2">M1CS</text>
<rect x="427.5" y="237.5" width="15" height="43.8" fill="#f9f1ac" stroke="#8e6a55" stroke-width="1"/>
<text x="435" y="247.5" fill="#3a3a26" stroke="#3a3a26" font-size="8" text-anchor="middle">1</text>
<text x="435" y="254.8" fill="#3a3a26" stroke="#3a3a26" font-size="8" text-anchor="middle">2</text>
<text x="435" y="262" fill="#3a3a26" stroke="#3a3a26" font-size="8" text-anchor="middle">3</text>
<text x="435" y="269.1" fill="#3a3a26" stroke="#3a3a26" font-size="8" text-anchor="middle">4</text>
<text x="435" y="276.6" fill="#3a3a26" stroke="#3a3a26" font-size="8" text-anchor="middle">5</text>
<text x="428" y="301.7" fill="#3e3c8a" stroke="#3e3c8a" font-size="7.2">JP5</text>
<line x1="388" y1="310.5" x2="427.5" y2="310.5" stroke="#44446f" stroke-width="1"/>
<text x="388" y="309.1" fill="#8c3f3f" stroke="#8c3f3f" font-size="7.2">GND</text>
<line x1="388" y1="317.5" x2="427.5" y2="317.5" stroke="#44446f" stroke-width="1"/>
<text x="388" y="316.3" fill="#8c3f3f" stroke="#8c3f3f" font-size="7.2">VOUT</text>
<line x1="388" y1="324.5" x2="427.5" y2="324.5" stroke="#44446f" stroke-width="1"/>
<text x="388" y="323.5" fill="#8c3f3f" stroke="#8c3f3f" font-size="7.2">VDD</text>
<rect x="427.5" y="303" width="15" height="29.5" fill="#f9f1ac" stroke="#8e6a55" stroke-width="1"/>
<text x="435" y="313.1" fill="#3a3a26" stroke="#3a3a26" font-size="8" text-anchor="middle">1</text>
<text x="435" y="320.3" fill="#3a3a26" stroke="#3a3a26" font-size="8" text-anchor="middle">2</text>
<text x="435" y="327.5" fill="#3a3a26" stroke="#3a3a26" font-size="8" text-anchor="middle">3</text>
<text x="428" y="352" fill="#3e3c8a" stroke="#3e3c8a" font-size="7.2">JP6</text>
<line x1="388" y1="360.5" x2="427.5" y2="360.5" stroke="#44446f" stroke-width="1"/>
<text x="388" y="359.6" fill="#8c3f3f" stroke="#8c3f3f" font-size="7.2">M2CS</text>
<line x1="388" y1="368.5" x2="427.5" y2="368.5" stroke="#44446f" stroke-width="1"/>
<text x="388" y="366.8" fill="#8c3f3f" stroke="#8c3f3f" font-size="7.2">M2PWM</text>
<line x1="388" y1="375.5" x2="427.5" y2="375.5" stroke="#44446f" stroke-width="1"/>
<text x="388" y="374.1" fill="#8c3f3f" stroke="#8c3f3f" font-size="7.2">M2INB</text>
<line x1="388" y1="382.5" x2="427.5" y2="382.5" stroke="#44446f" stroke-width="1"/>
<text x="388" y="381.3" fill="#8c3f3f" stroke="#8c3f3f" font-size="7.2">M2INA</text>
<line x1="388" y1="390.5" x2="427.5" y2="390.5" stroke="#44446f" stroke-width="1"/>
<text x="388" y="388.8" fill="#8c3f3f" stroke="#8c3f3f" font-size="7.2">M2ENA/B</text>
<rect x="427.5" y="353.3" width="15" height="44.2" fill="#f9f1ac" stroke="#8e6a55" stroke-width="1"/>
<text x="435" y="363.6" fill="#3a3a26" stroke="#3a3a26" font-size="8" text-anchor="middle">1</text>
<text x="435" y="370.8" fill="#3a3a26" stroke="#3a3a26" font-size="8" text-anchor="middle">2</text>
<text x="435" y="378.1" fill="#3a3a26" stroke="#3a3a26" font-size="8" text-anchor="middle">3</text>
<text x="435" y="385.3" fill="#3a3a26" stroke="#3a3a26" font-size="8" text-anchor="middle">4</text>
<text x="435" y="392.8" fill="#3a3a26" stroke="#3a3a26" font-size="8" text-anchor="middle">5</text>
<text x="496.3" y="236" fill="#8c3f3f" stroke="#8c3f3f" font-size="7.2" text-anchor="middle">VIN</text>
<line x1="493" y1="237.5" x2="499" y2="237.5" stroke="#8a5454" stroke-width="0.9"/>
<line x1="495.5" y1="237.8" x2="495.5" y2="353.3" stroke="#44446f" stroke-width="1"/>
<text x="510" y="257.7" fill="#3e3c8a" stroke="#3e3c8a" font-size="7.2">J2</text>
<line x1="465" y1="267.5" x2="508.5" y2="267.5" stroke="#44446f" stroke-width="1"/>
<line x1="465" y1="281.5" x2="508.5" y2="281.5" stroke="#44446f" stroke-width="1"/>
<text x="465" y="266.2" fill="#8c3f3f" stroke="#8c3f3f" font-size="7.2">M1OUTA</text>
<text x="465" y="279.7" fill="#8c3f3f" stroke="#8c3f3f" font-size="7.2">M1OUTB</text>
<rect x="508.5" y="259.5" width="22.7" height="29" fill="#f9f1ac" stroke="#8e6a55" stroke-width="1"/>
<text x="516" y="270.3" fill="#3a3a26" stroke="#3a3a26" font-size="8">1</text>
<text x="516" y="283.8" fill="#3a3a26" stroke="#3a3a26" font-size="8">2</text>
<text x="510" y="301.2" fill="#3e3c8a" stroke="#3e3c8a" font-size="7.2">J3</text>
<line x1="465" y1="310.5" x2="508.5" y2="310.5" stroke="#44446f" stroke-width="1"/>
<line x1="465" y1="325.5" x2="508.5" y2="325.5" stroke="#44446f" stroke-width="1"/>
<text x="465" y="308.9" fill="#8c3f3f" stroke="#8c3f3f" font-size="7.2">M2OUTA</text>
<text x="465" y="324" fill="#8c3f3f" stroke="#8c3f3f" font-size="7.2">M2OUTB</text>
<rect x="508.5" y="303" width="22.7" height="29.3" fill="#f9f1ac" stroke="#8e6a55" stroke-width="1"/>
<text x="516" y="313" fill="#3a3a26" stroke="#3a3a26" font-size="8">1</text>
<text x="516" y="328.1" fill="#3a3a26" stroke="#3a3a26" font-size="8">2</text>
<text x="510" y="345" fill="#3e3c8a" stroke="#3e3c8a" font-size="7.2">J4</text>
<rect x="508.5" y="346.8" width="22.7" height="29.4" fill="#f9f1ac" stroke="#8e6a55" stroke-width="1"/>
<text x="516" y="356.1" fill="#3a3a26" stroke="#3a3a26" font-size="8">1</text>
<text x="516" y="370.6" fill="#3a3a26" stroke="#3a3a26" font-size="8">2</text>
<line x1="495.5" y1="353.5" x2="508.5" y2="353.5" stroke="#44446f" stroke-width="1"/>
<line x1="481.5" y1="367.5" x2="508.5" y2="367.5" stroke="#44446f" stroke-width="1"/>
<line x1="481.5" y1="367.8" x2="481.5" y2="391" stroke="#44446f" stroke-width="1"/>
<line x1="474" y1="391.5" x2="489" y2="391.5" stroke="#8a5454" stroke-width="1.1"/>
<line x1="476.5" y1="393.5" x2="486.5" y2="393.5" stroke="#8a5454" stroke-width="1"/>
<line x1="478.5" y1="396.5" x2="484.5" y2="396.5" stroke="#8a5454" stroke-width="0.9"/>
<line x1="480.5" y1="398.5" x2="482.5" y2="398.5" stroke="#8a5454" stroke-width="0.8"/>
<text x="571.1" y="236" fill="#8c3f3f" stroke="#8c3f3f" font-size="7.2" text-anchor="middle">VIN</text>
<line x1="567.8" y1="237.5" x2="573.8" y2="237.5" stroke="#8a5454" stroke-width="0.9"/>
<line x1="570.5" y1="237.8" x2="570.5" y2="310" stroke="#44446f" stroke-width="1"/>
<line x1="555.7" y1="295.5" x2="576.7" y2="295.5" stroke="#44446f" stroke-width="1"/>
<line x1="555.5" y1="295" x2="555.5" y2="360.3" stroke="#44446f" stroke-width="1"/>
<line x1="548.2" y1="360.8" x2="563.2" y2="360.8" stroke="#8a5454" stroke-width="1.1"/>
<line x1="550.7" y1="363.5" x2="560.7" y2="363.5" stroke="#8a5454" stroke-width="1"/>
<line x1="552.7" y1="365.5" x2="558.7" y2="365.5" stroke="#8a5454" stroke-width="0.9"/>
<line x1="554.7" y1="367.5" x2="556.7" y2="367.5" stroke="#8a5454" stroke-width="0.8"/>
<line x1="541.7" y1="267.5" x2="576.7" y2="267.5" stroke="#44446f" stroke-width="1"/>
<text x="541.7" y="265.7" fill="#8c3f3f" stroke="#8c3f3f" font-size="7.2">M1OUTA</text>
<line x1="541.7" y1="281.5" x2="576.7" y2="281.5" stroke="#44446f" stroke-width="1"/>
<text x="541.7" y="279.7" fill="#8c3f3f" stroke="#8c3f3f" font-size="7.2">M1OUTB</text>
<line x1="541.7" y1="325.5" x2="576.7" y2="325.5" stroke="#44446f" stroke-width="1"/>
<text x="541.7" y="323.7" fill="#8c3f3f" stroke="#8c3f3f" font-size="7.2">M2OUTA</text>
<line x1="541.7" y1="339.5" x2="576.7" y2="339.5" stroke="#44446f" stroke-width="1"/>
<text x="541.7" y="337.9" fill="#8c3f3f" stroke="#8c3f3f" font-size="7.2">M2OUTB</text>
<line x1="570.5" y1="310.5" x2="576.7" y2="310.5" stroke="#44446f" stroke-width="1"/>
<polyline points="584.8,267.5 577.5,267.5 577.5,274.5 584.8,274.5" fill="none" stroke="#5a5a6a" stroke-width="1"/>
<path d="M574.6 267.5L576.5 265.6L578.4 267.5L576.5 269.4Z" fill="#24245e" stroke="#24245e" stroke-width="0.6" stroke-linejoin="round"/>
<polyline points="584.8,281.5 577.5,281.5 577.5,288.5 584.8,288.5" fill="none" stroke="#5a5a6a" stroke-width="1"/>
<path d="M574.6 281.5L576.5 279.6L578.4 281.5L576.5 283.4Z" fill="#24245e" stroke="#24245e" stroke-width="0.6" stroke-linejoin="round"/>
<polyline points="584.8,295.5 577.5,295.5 577.5,302.5 584.8,302.5" fill="none" stroke="#5a5a6a" stroke-width="1"/>
<path d="M574.6 295.5L576.5 293.6L578.4 295.5L576.5 297.4Z" fill="#24245e" stroke="#24245e" stroke-width="0.6" stroke-linejoin="round"/>
<polyline points="584.8,310.5 577.5,310.5 577.5,317.5 584.8,317.5" fill="none" stroke="#5a5a6a" stroke-width="1"/>
<path d="M574.6 310.5L576.5 308.6L578.4 310.5L576.5 312.4Z" fill="#24245e" stroke="#24245e" stroke-width="0.6" stroke-linejoin="round"/>
<polyline points="584.8,325.5 577.5,325.5 577.5,332.5 584.8,332.5" fill="none" stroke="#5a5a6a" stroke-width="1"/>
<path d="M574.6 325.5L576.5 323.6L578.4 325.5L576.5 327.4Z" fill="#24245e" stroke="#24245e" stroke-width="0.6" stroke-linejoin="round"/>
<polyline points="584.8,339.5 577.5,339.5 577.5,346.5 584.8,346.5" fill="none" stroke="#5a5a6a" stroke-width="1"/>
<path d="M574.6 339.5L576.5 337.6L578.4 339.5L576.5 341.4Z" fill="#24245e" stroke="#24245e" stroke-width="0.6" stroke-linejoin="round"/>
<rect x="584.8" y="259.5" width="14.7" height="94.3" fill="#f9f1ac" stroke="#8e6a55" stroke-width="1"/>
<text x="592.3" y="269.7" fill="#3a3a26" stroke="#3a3a26" font-size="7.6" text-anchor="middle">1</text>
<text x="592.3" y="276.7" fill="#3a3a26" stroke="#3a3a26" font-size="7.6" text-anchor="middle">2</text>
<text x="592.3" y="283.7" fill="#3a3a26" stroke="#3a3a26" font-size="7.6" text-anchor="middle">3</text>
<text x="592.3" y="290.7" fill="#3a3a26" stroke="#3a3a26" font-size="7.6" text-anchor="middle">4</text>
<text x="592.3" y="297.7" fill="#3a3a26" stroke="#3a3a26" font-size="7.6" text-anchor="middle">5</text>
<text x="592.3" y="304.7" fill="#3a3a26" stroke="#3a3a26" font-size="7.6" text-anchor="middle">6</text>
<text x="592.3" y="312.7" fill="#3a3a26" stroke="#3a3a26" font-size="7.6" text-anchor="middle">7</text>
<text x="592.3" y="319.7" fill="#3a3a26" stroke="#3a3a26" font-size="7.6" text-anchor="middle">8</text>
<text x="592.3" y="327.7" fill="#3a3a26" stroke="#3a3a26" font-size="7.6" text-anchor="middle">9</text>
<text x="592.3" y="334.7" fill="#3a3a26" stroke="#3a3a26" font-size="7.6" text-anchor="middle">10</text>
<text x="592.3" y="341.9" fill="#3a3a26" stroke="#3a3a26" font-size="7.6" text-anchor="middle">11</text>
<text x="592.3" y="349" fill="#3a3a26" stroke="#3a3a26" font-size="7.6" text-anchor="middle">12</text>
<text x="585" y="361.5" fill="#3e3c8a" stroke="#3e3c8a" font-size="7.2">JP2</text>
<rect x="131.3" y="571.3" width="97.9" height="191.9" fill="#f9f1ac" stroke="#8e6a55" stroke-width="1"/>
<text x="131.4" y="771" fill="#3e3c8a" stroke="#3e3c8a" font-size="7.2">Arduino Shield Pins</text>
<text x="110.3" y="563" fill="#8c3f3f" stroke="#8c3f3f" font-size="7.2" text-anchor="middle">VDD</text>
<line x1="107" y1="564.5" x2="113" y2="564.5" stroke="#8a5454" stroke-width="0.9"/>
<line x1="109.5" y1="564.5" x2="109.5" y2="585" stroke="#44446f" stroke-width="1"/>
<line x1="109.5" y1="585.5" x2="131.3" y2="585.5" stroke="#5a5a6a" stroke-width="1"/>
<line x1="109.5" y1="585.5" x2="131.3" y2="585.5" stroke="#5a5a6a" stroke-width="1"/>
<text x="126.3" y="583.4" fill="#3a3a3a" stroke="#3a3a3a" font-size="7.2" text-anchor="end">25</text>
<text x="136" y="587.6" fill="#3a3a26" stroke="#3a3a26" font-size="7.2">5V</text>
<line x1="109.5" y1="607.5" x2="131.3" y2="607.5" stroke="#5a5a6a" stroke-width="1"/>
<text x="126.3" y="605.4" fill="#3a3a3a" stroke="#3a3a3a" font-size="7.2" text-anchor="end">27</text>
<text x="136" y="609.6" fill="#3a3a26" stroke="#3a3a26" font-size="7.2">RESET</text>
<ellipse cx="126.5" cy="607.5" rx="2.6" ry="1.4" fill="#dddddd" stroke="#444444" stroke-width="0.9"/>
<line x1="109.5" y1="618.5" x2="131.3" y2="618.5" stroke="#5a5a6a" stroke-width="1"/>
<text x="126.3" y="616.7" fill="#3a3a3a" stroke="#3a3a3a" font-size="7.2" text-anchor="end">26</text>
<text x="136" y="620.9" fill="#3a3a26" stroke="#3a3a26" font-size="7.2">3.3V</text>
<line x1="109.5" y1="643.5" x2="131.3" y2="643.5" stroke="#5a5a6a" stroke-width="1"/>
<text x="126.3" y="642.2" fill="#3a3a3a" stroke="#3a3a3a" font-size="7.2" text-anchor="end">22</text>
<text x="136" y="646.4" fill="#3a3a26" stroke="#3a3a26" font-size="7.2">VIN</text>
<line x1="109.5" y1="658.5" x2="131.3" y2="658.5" stroke="#5a5a6a" stroke-width="1"/>
<text x="126.3" y="656.7" fill="#3a3a3a" stroke="#3a3a3a" font-size="7.2" text-anchor="end">21</text>
<text x="136" y="660.9" fill="#3a3a26" stroke="#3a3a26" font-size="7.2">A0</text>
<ellipse cx="126.5" cy="658.5" rx="2.6" ry="1.4" fill="#dddddd" stroke="#444444" stroke-width="0.9"/>
<line x1="109.5" y1="668.5" x2="131.3" y2="668.5" stroke="#5a5a6a" stroke-width="1"/>
<text x="126.3" y="667.2" fill="#3a3a3a" stroke="#3a3a3a" font-size="7.2" text-anchor="end">20</text>
<text x="136" y="671.4" fill="#3a3a26" stroke="#3a3a26" font-size="7.2">A1</text>
<ellipse cx="126.5" cy="668.5" rx="2.6" ry="1.4" fill="#dddddd" stroke="#444444" stroke-width="0.9"/>
<line x1="109.5" y1="680.5" x2="131.3" y2="680.5" stroke="#5a5a6a" stroke-width="1"/>
<text x="126.3" y="678.4" fill="#3a3a3a" stroke="#3a3a3a" font-size="7.2" text-anchor="end">19</text>
<text x="136" y="682.6" fill="#3a3a26" stroke="#3a3a26" font-size="7.2">A2</text>
<ellipse cx="126.5" cy="680.5" rx="2.6" ry="1.4" fill="#dddddd" stroke="#444444" stroke-width="0.9"/>
<line x1="109.5" y1="690.5" x2="131.3" y2="690.5" stroke="#5a5a6a" stroke-width="1"/>
<text x="126.3" y="688.9" fill="#3a3a3a" stroke="#3a3a3a" font-size="7.2" text-anchor="end">18</text>
<text x="136" y="693.1" fill="#3a3a26" stroke="#3a3a26" font-size="7.2">A3</text>
<ellipse cx="126.5" cy="690.5" rx="2.6" ry="1.4" fill="#dddddd" stroke="#444444" stroke-width="0.9"/>
<line x1="109.5" y1="701.5" x2="131.3" y2="701.5" stroke="#5a5a6a" stroke-width="1"/>
<text x="126.3" y="700.2" fill="#3a3a3a" stroke="#3a3a3a" font-size="7.2" text-anchor="end">17</text>
<text x="136" y="704.4" fill="#3a3a26" stroke="#3a3a26" font-size="7.2">A4</text>
<ellipse cx="126.5" cy="701.5" rx="2.6" ry="1.4" fill="#dddddd" stroke="#444444" stroke-width="0.9"/>
<line x1="109.5" y1="712.5" x2="131.3" y2="712.5" stroke="#5a5a6a" stroke-width="1"/>
<text x="126.3" y="710.9" fill="#3a3a3a" stroke="#3a3a3a" font-size="7.2" text-anchor="end">16</text>
<text x="136" y="715.1" fill="#3a3a26" stroke="#3a3a26" font-size="7.2">A5</text>
<ellipse cx="126.5" cy="712.5" rx="2.6" ry="1.4" fill="#dddddd" stroke="#444444" stroke-width="0.9"/>
<line x1="109.5" y1="738.5" x2="131.3" y2="738.5" stroke="#5a5a6a" stroke-width="1"/>
<text x="126.3" y="736.4" fill="#3a3a3a" stroke="#3a3a3a" font-size="7.2" text-anchor="end">24</text>
<text x="136" y="740.6" fill="#3a3a26" stroke="#3a3a26" font-size="7.2">GND</text>
<line x1="109.5" y1="745.5" x2="131.3" y2="745.5" stroke="#5a5a6a" stroke-width="1"/>
<text x="126.3" y="743.9" fill="#3a3a3a" stroke="#3a3a3a" font-size="7.2" text-anchor="end">23</text>
<text x="136" y="748.1" fill="#3a3a26" stroke="#3a3a26" font-size="7.2">GND</text>
<line x1="109.5" y1="752.5" x2="131.3" y2="752.5" stroke="#5a5a6a" stroke-width="1"/>
<text x="126.3" y="751" fill="#3a3a3a" stroke="#3a3a3a" font-size="7.2" text-anchor="end">14</text>
<text x="136" y="755.2" fill="#3a3a26" stroke="#3a3a26" font-size="7.2">GND</text>
<line x1="109.5" y1="738" x2="109.5" y2="761" stroke="#44446f" stroke-width="1"/>
<line x1="109.5" y1="761.5" x2="109.5" y2="767.5" stroke="#8a5454" stroke-width="1"/>
<line x1="102" y1="768" x2="117" y2="768" stroke="#8a5454" stroke-width="1.1"/>
<line x1="104.5" y1="770.5" x2="114.5" y2="770.5" stroke="#8a5454" stroke-width="1"/>
<line x1="106.5" y1="772.5" x2="112.5" y2="772.5" stroke="#8a5454" stroke-width="0.9"/>
<line x1="108.5" y1="774.5" x2="110.5" y2="774.5" stroke="#8a5454" stroke-width="0.8"/>
<path d="M107.6 745.5L109.5 743.6L111.4 745.5L109.5 747.4Z" fill="#24245e" stroke="#24245e" stroke-width="0.6" stroke-linejoin="round"/>
<path d="M107.6 752.5L109.5 750.6L111.4 752.5L109.5 754.4Z" fill="#24245e" stroke="#24245e" stroke-width="0.6" stroke-linejoin="round"/>
<text x="22" y="628.2" fill="#3e3c8a" stroke="#3e3c8a" font-size="7.2">JP9</text>
<rect x="22" y="629.5" width="15" height="21.8" fill="#f9f1ac" stroke="#8e6a55" stroke-width="1"/>
<text x="29.5" y="639.6" fill="#3a3a26" stroke="#3a3a26" font-size="8" text-anchor="middle">2</text>
<text x="29.5" y="647" fill="#3a3a26" stroke="#3a3a26" font-size="8" text-anchor="middle">1</text>
<line x1="37" y1="636.5" x2="75" y2="636.5" stroke="#44446f" stroke-width="1"/>
<line x1="37" y1="643.5" x2="109.5" y2="643.5" stroke="#44446f" stroke-width="1"/>
<text x="55" y="634.8" fill="#8c3f3f" stroke="#8c3f3f" font-size="7.2">VOUT</text>
<text x="55" y="642.2" fill="#8c3f3f" stroke="#8c3f3f" font-size="7.2">ARD_VIN</text>
<line x1="32.5" y1="658.5" x2="109.5" y2="658.5" stroke="#44446f" stroke-width="1"/>
<text x="32.5" y="656.6" fill="#8c3f3f" stroke="#8c3f3f" font-size="7.2">M1CS</text>
<path d="M56.6 658.5L58.5 656.6L60.4 658.5L58.5 660.4Z" fill="#24245e" stroke="#24245e" stroke-width="0.6" stroke-linejoin="round"/>
<path d="M64.6 658.5L66.5 656.6L68.4 658.5L66.5 660.4Z" fill="#24245e" stroke="#24245e" stroke-width="0.6" stroke-linejoin="round"/>
<line x1="58.5" y1="658.3" x2="58.5" y2="665.5" stroke="#44446f" stroke-width="1"/>
<line x1="66.5" y1="658.3" x2="66.5" y2="665.5" stroke="#44446f" stroke-width="1"/>
<rect x="51.25" y="665.5" width="22" height="15" fill="#f9f1ac" stroke="#8e6a55" stroke-width="1"/>
<path d="M62.75 670.7H66.75" stroke="#505038" stroke-width="1.1" fill="none"/>
<path d="M66.15 669L68.75 670.7L66.15 672.4Z" fill="#505038"/>
<path d="M55.25 672.5V669.1L59.65 672.3V668.9" stroke="#505038" stroke-width="1.0" fill="none" stroke-linejoin="round"/>
<text x="56" y="687.6" fill="#3e3c8a" stroke="#3e3c8a" font-size="7.2">JP16</text>
<line x1="32.5" y1="690.5" x2="76.25" y2="690.5" stroke="#44446f" stroke-width="1"/>
<line x1="76.5" y1="690.8" x2="76.5" y2="668.8" stroke="#44446f" stroke-width="1"/>
<line x1="76.25" y1="668.5" x2="109.5" y2="668.5" stroke="#44446f" stroke-width="1"/>
<text x="32.5" y="689.1" fill="#8c3f3f" stroke="#8c3f3f" font-size="7.2">M2CS</text>
<path d="M56.6 690.5L58.5 688.6L60.4 690.5L58.5 692.4Z" fill="#24245e" stroke="#24245e" stroke-width="0.6" stroke-linejoin="round"/>
<path d="M64.6 690.5L66.5 688.6L68.4 690.5L66.5 692.4Z" fill="#24245e" stroke="#24245e" stroke-width="0.6" stroke-linejoin="round"/>
<line x1="58.5" y1="690.8" x2="58.5" y2="698.3" stroke="#44446f" stroke-width="1"/>
<line x1="66.5" y1="690.8" x2="66.5" y2="698.3" stroke="#44446f" stroke-width="1"/>
<rect x="51.25" y="698.3" width="22" height="15" fill="#f9f1ac" stroke="#8e6a55" stroke-width="1"/>
<path d="M62.75 703.5H66.75" stroke="#505038" stroke-width="1.1" fill="none"/>
<path d="M66.15 701.8L68.75 703.5L66.15 705.2Z" fill="#505038"/>
<path d="M55.25 705.3V701.9L59.65 705.1V701.7" stroke="#505038" stroke-width="1.0" fill="none" stroke-linejoin="round"/>
<text x="56" y="720.6" fill="#3e3c8a" stroke="#3e3c8a" font-size="7.2">JP18</text>
<line x1="229.2" y1="582.5" x2="252" y2="582.5" stroke="#5a5a6a" stroke-width="1"/>
<text x="235.8" y="580.6" fill="#3a3a3a" stroke="#3a3a3a" font-size="7.2">15</text>
<text x="225.5" y="584.6" fill="#3a3a26" stroke="#3a3a26" font-size="7.2" text-anchor="end">AREF</text>
<line x1="229.2" y1="603.5" x2="252" y2="603.5" stroke="#5a5a6a" stroke-width="1"/>
<text x="235.8" y="602.1" fill="#3a3a3a" stroke="#3a3a3a" font-size="7.2">13</text>
<text x="225.5" y="606.1" fill="#3a3a26" stroke="#3a3a26" font-size="7.2" text-anchor="end">13</text>
<ellipse cx="233.6" cy="603.5" rx="2.6" ry="1.4" fill="#dddddd" stroke="#444444" stroke-width="0.9"/>
<line x1="229.2" y1="614.5" x2="252" y2="614.5" stroke="#5a5a6a" stroke-width="1"/>
<line x1="252" y1="614.5" x2="312" y2="614.5" stroke="#44446f" stroke-width="1"/>
<text x="235.8" y="612.9" fill="#3a3a3a" stroke="#3a3a3a" font-size="7.2">12</text>
<text x="225.5" y="616.9" fill="#3a3a26" stroke="#3a3a26" font-size="7.2" text-anchor="end">12</text>
<ellipse cx="233.6" cy="614.5" rx="2.6" ry="1.4" fill="#dddddd" stroke="#444444" stroke-width="0.9"/>
<line x1="229.2" y1="625.5" x2="252" y2="625.5" stroke="#5a5a6a" stroke-width="1"/>
<text x="235.8" y="624" fill="#3a3a3a" stroke="#3a3a3a" font-size="7.2">11</text>
<text x="225.5" y="628" fill="#3a3a26" stroke="#3a3a26" font-size="7.2" text-anchor="end">~11</text>
<ellipse cx="233.6" cy="625.5" rx="2.6" ry="1.4" fill="#dddddd" stroke="#444444" stroke-width="0.9"/>
<line x1="229.2" y1="636.5" x2="252" y2="636.5" stroke="#5a5a6a" stroke-width="1"/>
<line x1="252" y1="636.5" x2="309" y2="636.5" stroke="#44446f" stroke-width="1"/>
<text x="235.8" y="635.2" fill="#3a3a3a" stroke="#3a3a3a" font-size="7.2">10</text>
<text x="225.5" y="639.2" fill="#3a3a26" stroke="#3a3a26" font-size="7.2" text-anchor="end">~10</text>
<ellipse cx="233.6" cy="636.5" rx="2.6" ry="1.4" fill="#dddddd" stroke="#444444" stroke-width="0.9"/>
<line x1="229.2" y1="648.5" x2="252" y2="648.5" stroke="#5a5a6a" stroke-width="1"/>
<line x1="252" y1="648.5" x2="366" y2="648.5" stroke="#44446f" stroke-width="1"/>
<text x="235.8" y="646.6" fill="#3a3a3a" stroke="#3a3a3a" font-size="7.2">9</text>
<text x="225.5" y="650.6" fill="#3a3a26" stroke="#3a3a26" font-size="7.2" text-anchor="end">~9</text>
<ellipse cx="233.6" cy="648.5" rx="2.6" ry="1.4" fill="#dddddd" stroke="#444444" stroke-width="0.9"/>
<line x1="229.2" y1="658.5" x2="252" y2="658.5" stroke="#5a5a6a" stroke-width="1"/>
<line x1="252" y1="658.5" x2="415.5" y2="658.5" stroke="#44446f" stroke-width="1"/>
<text x="235.8" y="656.9" fill="#3a3a3a" stroke="#3a3a3a" font-size="7.2">8</text>
<text x="225.5" y="660.9" fill="#3a3a26" stroke="#3a3a26" font-size="7.2" text-anchor="end">8</text>
<ellipse cx="233.6" cy="658.5" rx="2.6" ry="1.4" fill="#dddddd" stroke="#444444" stroke-width="0.9"/>
<line x1="229.2" y1="680.5" x2="252" y2="680.5" stroke="#5a5a6a" stroke-width="1"/>
<line x1="252" y1="680.5" x2="302.7" y2="680.5" stroke="#44446f" stroke-width="1"/>
<text x="235.8" y="678.9" fill="#3a3a3a" stroke="#3a3a3a" font-size="7.2">7</text>
<text x="225.5" y="682.9" fill="#3a3a26" stroke="#3a3a26" font-size="7.2" text-anchor="end">7</text>
<ellipse cx="233.6" cy="680.5" rx="2.6" ry="1.4" fill="#dddddd" stroke="#444444" stroke-width="0.9"/>
<line x1="229.2" y1="691.5" x2="252" y2="691.5" stroke="#5a5a6a" stroke-width="1"/>
<line x1="252" y1="691.5" x2="365.3" y2="691.5" stroke="#44446f" stroke-width="1"/>
<text x="235.8" y="689.6" fill="#3a3a3a" stroke="#3a3a3a" font-size="7.2">6</text>
<text x="225.5" y="693.6" fill="#3a3a26" stroke="#3a3a26" font-size="7.2" text-anchor="end">~6</text>
<ellipse cx="233.6" cy="691.5" rx="2.6" ry="1.4" fill="#dddddd" stroke="#444444" stroke-width="0.9"/>
<line x1="229.2" y1="701.5" x2="252" y2="701.5" stroke="#5a5a6a" stroke-width="1"/>
<text x="235.8" y="700.4" fill="#3a3a3a" stroke="#3a3a3a" font-size="7.2">5</text>
<text x="225.5" y="704.4" fill="#3a3a26" stroke="#3a3a26" font-size="7.2" text-anchor="end">~5</text>
<ellipse cx="233.6" cy="701.5" rx="2.6" ry="1.4" fill="#dddddd" stroke="#444444" stroke-width="0.9"/>
<line x1="229.2" y1="712.5" x2="252" y2="712.5" stroke="#5a5a6a" stroke-width="1"/>
<line x1="252" y1="712.5" x2="302.7" y2="712.5" stroke="#44446f" stroke-width="1"/>
<text x="235.8" y="711" fill="#3a3a3a" stroke="#3a3a3a" font-size="7.2">4</text>
<text x="225.5" y="715" fill="#3a3a26" stroke="#3a3a26" font-size="7.2" text-anchor="end">4</text>
<ellipse cx="233.6" cy="712.5" rx="2.6" ry="1.4" fill="#dddddd" stroke="#444444" stroke-width="0.9"/>
<line x1="229.2" y1="723.5" x2="252" y2="723.5" stroke="#5a5a6a" stroke-width="1"/>
<text x="235.8" y="722.3" fill="#3a3a3a" stroke="#3a3a3a" font-size="7.2">3</text>
<text x="225.5" y="726.3" fill="#3a3a26" stroke="#3a3a26" font-size="7.2" text-anchor="end">~3</text>
<ellipse cx="233.6" cy="723.5" rx="2.6" ry="1.4" fill="#dddddd" stroke="#444444" stroke-width="0.9"/>
<line x1="229.2" y1="734.5" x2="252" y2="734.5" stroke="#5a5a6a" stroke-width="1"/>
<line x1="252" y1="734.5" x2="302.7" y2="734.5" stroke="#44446f" stroke-width="1"/>
<text x="235.8" y="732.8" fill="#3a3a3a" stroke="#3a3a3a" font-size="7.2">2</text>
<text x="225.5" y="736.8" fill="#3a3a26" stroke="#3a3a26" font-size="7.2" text-anchor="end">2</text>
<ellipse cx="233.6" cy="734.5" rx="2.6" ry="1.4" fill="#dddddd" stroke="#444444" stroke-width="0.9"/>
<line x1="229.2" y1="745.5" x2="252" y2="745.5" stroke="#5a5a6a" stroke-width="1"/>
<text x="235.8" y="744.2" fill="#3a3a3a" stroke="#3a3a3a" font-size="7.2">1</text>
<text x="225.5" y="748.2" fill="#3a3a26" stroke="#3a3a26" font-size="7.2" text-anchor="end">TX</text>
<ellipse cx="233.6" cy="745.5" rx="2.6" ry="1.4" fill="#dddddd" stroke="#444444" stroke-width="0.9"/>
<line x1="229.2" y1="756.5" x2="252" y2="756.5" stroke="#5a5a6a" stroke-width="1"/>
<text x="235.8" y="755.2" fill="#3a3a3a" stroke="#3a3a3a" font-size="7.2">0</text>
<text x="225.5" y="759.2" fill="#3a3a26" stroke="#3a3a26" font-size="7.2" text-anchor="end">RX</text>
<ellipse cx="233.6" cy="756.5" rx="2.6" ry="1.4" fill="#dddddd" stroke="#444444" stroke-width="0.9"/>
<rect x="255" y="592.5" width="21.6" height="15" fill="#f9f1ac" stroke="#8e6a55" stroke-width="1"/>
<path d="M259.5 604.2H263.8" stroke="#505038" stroke-width="1.1" fill="none"/>
<path d="M263.2 602.5L265.8 604.2L263.2 605.9Z" fill="#505038"/>
<path d="M267.2 606V602.6L271.8 605.8V602.4" stroke="#505038" stroke-width="1.0" fill="none" stroke-linejoin="round"/>
<text x="280.5" y="602.4" fill="#3e3c8a" stroke="#3e3c8a" font-size="7.2">JP10</text>
<text x="280.5" y="612.8" fill="#8c3f3f" stroke="#8c3f3f" font-size="7.2">M2ENA/B</text>
<line x1="262.5" y1="607.5" x2="262.5" y2="614.3" stroke="#44446f" stroke-width="1"/>
<line x1="269.5" y1="607.5" x2="269.5" y2="614.3" stroke="#44446f" stroke-width="1"/>
<path d="M260.6 614.5L262.5 612.6L264.4 614.5L262.5 616.4Z" fill="#24245e" stroke="#24245e" stroke-width="0.6" stroke-linejoin="round"/>
<path d="M267.6 614.5L269.5 612.6L271.4 614.5L269.5 616.4Z" fill="#24245e" stroke="#24245e" stroke-width="0.6" stroke-linejoin="round"/>
<rect x="255" y="616" width="21.6" height="14" fill="#f9f1ac" stroke="#8e6a55" stroke-width="1"/>
<path d="M259.5 626.7H263.8" stroke="#505038" stroke-width="1.1" fill="none"/>
<path d="M263.2 625L265.8 626.7L263.2 628.4Z" fill="#505038"/>
<path d="M267.2 628.5V625.1L271.8 628.3V624.9" stroke="#505038" stroke-width="1.0" fill="none" stroke-linejoin="round"/>
<text x="280.5" y="625.5" fill="#3e3c8a" stroke="#3e3c8a" font-size="7.2">JP11</text>
<text x="280.5" y="635.2" fill="#8c3f3f" stroke="#8c3f3f" font-size="7.2">M2PWM</text>
<line x1="262.5" y1="630" x2="262.5" y2="636.6" stroke="#44446f" stroke-width="1"/>
<line x1="269.5" y1="630" x2="269.5" y2="636.6" stroke="#44446f" stroke-width="1"/>
<path d="M260.6 636.5L262.5 634.6L264.4 636.5L262.5 638.4Z" fill="#24245e" stroke="#24245e" stroke-width="0.6" stroke-linejoin="round"/>
<path d="M267.6 636.5L269.5 634.6L271.4 636.5L269.5 638.4Z" fill="#24245e" stroke="#24245e" stroke-width="0.6" stroke-linejoin="round"/>
<rect x="313.5" y="626" width="21.9" height="14.5" fill="#f9f1ac" stroke="#8e6a55" stroke-width="1"/>
<path d="M318 637.2H322.3" stroke="#505038" stroke-width="1.1" fill="none"/>
<path d="M321.7 635.5L324.3 637.2L321.7 638.9Z" fill="#505038"/>
<path d="M325.7 639V635.6L330.3 638.8V635.4" stroke="#505038" stroke-width="1.0" fill="none" stroke-linejoin="round"/>
<text x="339" y="636" fill="#3e3c8a" stroke="#3e3c8a" font-size="7.2">JP12</text>
<text x="339" y="646.5" fill="#8c3f3f" stroke="#8c3f3f" font-size="7.2">M1PWM</text>
<line x1="320.5" y1="640.5" x2="320.5" y2="648" stroke="#44446f" stroke-width="1"/>
<line x1="328.5" y1="640.5" x2="328.5" y2="648" stroke="#44446f" stroke-width="1"/>
<path d="M318.6 648.5L320.5 646.6L322.4 648.5L320.5 650.4Z" fill="#24245e" stroke="#24245e" stroke-width="0.6" stroke-linejoin="round"/>
<path d="M326.6 648.5L328.5 646.6L330.4 648.5L328.5 650.4Z" fill="#24245e" stroke="#24245e" stroke-width="0.6" stroke-linejoin="round"/>
<rect x="367.5" y="636.6" width="22.5" height="14.4" fill="#f9f1ac" stroke="#8e6a55" stroke-width="1"/>
<path d="M372 647.7H376.3" stroke="#505038" stroke-width="1.1" fill="none"/>
<path d="M375.7 646L378.3 647.7L375.7 649.4Z" fill="#505038"/>
<path d="M379.7 649.5V646.1L384.3 649.3V645.9" stroke="#505038" stroke-width="1.0" fill="none" stroke-linejoin="round"/>
<text x="368.4" y="635.2" fill="#3e3c8a" stroke="#3e3c8a" font-size="7.2">JP13</text>
<text x="393.6" y="656.8" fill="#8c3f3f" stroke="#8c3f3f" font-size="7.2">M2INB</text>
<line x1="374.5" y1="651" x2="374.5" y2="658.3" stroke="#44446f" stroke-width="1"/>
<line x1="382.5" y1="651" x2="382.5" y2="658.3" stroke="#44446f" stroke-width="1"/>
<path d="M372.6 658.5L374.5 656.6L376.4 658.5L374.5 660.4Z" fill="#24245e" stroke="#24245e" stroke-width="0.6" stroke-linejoin="round"/>
<path d="M380.6 658.5L382.5 656.6L384.4 658.5L382.5 660.4Z" fill="#24245e" stroke="#24245e" stroke-width="0.6" stroke-linejoin="round"/>
<rect x="254.7" y="659" width="22.1" height="14.1" fill="#f9f1ac" stroke="#8e6a55" stroke-width="1"/>
<path d="M259.2 669.8H263.5" stroke="#505038" stroke-width="1.1" fill="none"/>
<path d="M262.9 668.1L265.5 669.8L262.9 671.5Z" fill="#505038"/>
<path d="M266.9 671.6V668.2L271.5 671.4V668" stroke="#505038" stroke-width="1.0" fill="none" stroke-linejoin="round"/>
<text x="280.5" y="668.3" fill="#3e3c8a" stroke="#3e3c8a" font-size="7.2">JP14</text>
<text x="280.5" y="678.8" fill="#8c3f3f" stroke="#8c3f3f" font-size="7.2">M2INA</text>
<line x1="262.5" y1="673.1" x2="262.5" y2="680.3" stroke="#44446f" stroke-width="1"/>
<line x1="269.5" y1="673.1" x2="269.5" y2="680.3" stroke="#44446f" stroke-width="1"/>
<path d="M260.6 680.5L262.5 678.6L264.4 680.5L262.5 682.4Z" fill="#24245e" stroke="#24245e" stroke-width="0.6" stroke-linejoin="round"/>
<path d="M267.6 680.5L269.5 678.6L271.4 680.5L269.5 682.4Z" fill="#24245e" stroke="#24245e" stroke-width="0.6" stroke-linejoin="round"/>
<rect x="306" y="668.9" width="22" height="14.9" fill="#f9f1ac" stroke="#8e6a55" stroke-width="1"/>
<path d="M310.5 680.5H314.8" stroke="#505038" stroke-width="1.1" fill="none"/>
<path d="M314.2 678.8L316.8 680.5L314.2 682.2Z" fill="#505038"/>
<path d="M318.2 682.3V678.9L322.8 682.1V678.7" stroke="#505038" stroke-width="1.0" fill="none" stroke-linejoin="round"/>
<text x="332" y="679" fill="#3e3c8a" stroke="#3e3c8a" font-size="7.2">JP15</text>
<text x="335.5" y="689.6" fill="#8c3f3f" stroke="#8c3f3f" font-size="7.2">M1ENA/B</text>
<line x1="313.5" y1="683.8" x2="313.5" y2="691" stroke="#44446f" stroke-width="1"/>
<line x1="320.5" y1="683.8" x2="320.5" y2="691" stroke="#44446f" stroke-width="1"/>
<path d="M311.6 691.5L313.5 689.6L315.4 691.5L313.5 693.4Z" fill="#24245e" stroke="#24245e" stroke-width="0.6" stroke-linejoin="round"/>
<path d="M318.6 691.5L320.5 689.6L322.4 691.5L320.5 693.4Z" fill="#24245e" stroke="#24245e" stroke-width="0.6" stroke-linejoin="round"/>
<rect x="254.7" y="691.5" width="22.1" height="14.2" fill="#f9f1ac" stroke="#8e6a55" stroke-width="1"/>
<path d="M259.2 702.4H263.5" stroke="#505038" stroke-width="1.1" fill="none"/>
<path d="M262.9 700.7L265.5 702.4L262.9 704.1Z" fill="#505038"/>
<path d="M266.9 704.2V700.8L271.5 704V700.6" stroke="#505038" stroke-width="1.0" fill="none" stroke-linejoin="round"/>
<text x="280.5" y="701" fill="#3e3c8a" stroke="#3e3c8a" font-size="7.2">JP17</text>
<text x="280.5" y="711" fill="#8c3f3f" stroke="#8c3f3f" font-size="7.2">M1INB</text>
<line x1="262.5" y1="705.7" x2="262.5" y2="712.4" stroke="#44446f" stroke-width="1"/>
<line x1="269.5" y1="705.7" x2="269.5" y2="712.4" stroke="#44446f" stroke-width="1"/>
<path d="M260.6 712.5L262.5 710.6L264.4 712.5L262.5 714.4Z" fill="#24245e" stroke="#24245e" stroke-width="0.6" stroke-linejoin="round"/>
<path d="M267.6 712.5L269.5 710.6L271.4 712.5L269.5 714.4Z" fill="#24245e" stroke="#24245e" stroke-width="0.6" stroke-linejoin="round"/>
<rect x="254.7" y="713" width="22.1" height="14" fill="#f9f1ac" stroke="#8e6a55" stroke-width="1"/>
<path d="M259.2 723.7H263.5" stroke="#505038" stroke-width="1.1" fill="none"/>
<path d="M262.9 722L265.5 723.7L262.9 725.4Z" fill="#505038"/>
<path d="M266.9 725.5V722.1L271.5 725.3V721.9" stroke="#505038" stroke-width="1.0" fill="none" stroke-linejoin="round"/>
<text x="280.5" y="723" fill="#3e3c8a" stroke="#3e3c8a" font-size="7.2">JP19</text>
<text x="280.5" y="732.7" fill="#8c3f3f" stroke="#8c3f3f" font-size="7.2">M1INA</text>
<line x1="262.5" y1="727" x2="262.5" y2="734.2" stroke="#44446f" stroke-width="1"/>
<line x1="269.5" y1="727" x2="269.5" y2="734.2" stroke="#44446f" stroke-width="1"/>
<path d="M260.6 734.5L262.5 732.6L264.4 734.5L262.5 736.4Z" fill="#24245e" stroke="#24245e" stroke-width="0.6" stroke-linejoin="round"/>
<path d="M267.6 734.5L269.5 732.6L271.4 734.5L269.5 736.4Z" fill="#24245e" stroke="#24245e" stroke-width="0.6" stroke-linejoin="round"/>
</svg>
</body></html>
